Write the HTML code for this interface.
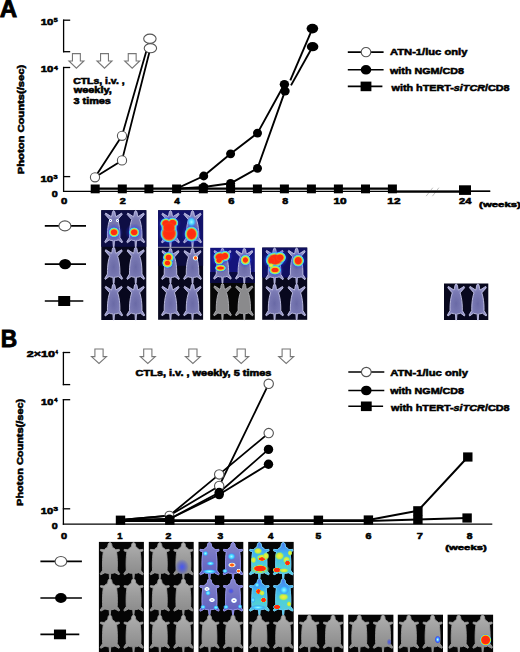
<!DOCTYPE html><html><head><meta charset="utf-8"><style>html,body{margin:0;padding:0;background:#fff;}svg{display:block;} text{stroke:#000;stroke-width:0.55px;} .big{stroke-width:0.9px;}</style></head><body>
<svg width="520" height="652" viewBox="0 0 520 652" font-family="'Liberation Sans', sans-serif">
<defs>
<filter id="bl" x="-20%" y="-20%" width="140%" height="140%"><feGaussianBlur stdDeviation="0.5"/></filter>
<filter id="bl2" x="-30%" y="-30%" width="160%" height="160%"><feGaussianBlur stdDeviation="1.0"/></filter>
<radialGradient id="hot"><stop offset="0" stop-color="#ff2810"/><stop offset="0.66" stop-color="#ff3010"/><stop offset="0.76" stop-color="#ffb000"/><stop offset="0.82" stop-color="#b0f040"/><stop offset="0.88" stop-color="#40d0ff"/><stop offset="1" stop-color="#3048ff" stop-opacity="0"/></radialGradient>
<radialGradient id="warm"><stop offset="0" stop-color="#ffe040"/><stop offset="0.4" stop-color="#60e080"/><stop offset="0.7" stop-color="#30b0ff"/><stop offset="1" stop-color="#3040ff" stop-opacity="0"/></radialGradient>
<radialGradient id="cool"><stop offset="0" stop-color="#ffffff"/><stop offset="0.3" stop-color="#60d0ff"/><stop offset="0.7" stop-color="#3050ff"/><stop offset="1" stop-color="#3040ff" stop-opacity="0"/></radialGradient>
<radialGradient id="glow"><stop offset="0" stop-color="#4050ff" stop-opacity="0.9"/><stop offset="1" stop-color="#2030e0" stop-opacity="0"/></radialGradient>
<radialGradient id="ab" cx="0.5" cy="0.55" r="0.55"><stop offset="0" stop-color="#6a6aa6"/><stop offset="0.6" stop-color="#7a7ab4"/><stop offset="1" stop-color="#a0a0d0"/></radialGradient>
<linearGradient id="bb" x1="0" y1="0" x2="0" y2="1"><stop offset="0" stop-color="#b0b0b0"/><stop offset="0.5" stop-color="#9a9a9a"/><stop offset="1" stop-color="#888888"/></linearGradient>
<linearGradient id="w3" x1="0" y1="0" x2="0" y2="1"><stop offset="0" stop-color="#8686c8"/><stop offset="0.6" stop-color="#6c6cc2"/><stop offset="1" stop-color="#5c5cbc"/></linearGradient>
<linearGradient id="w4" x1="0" y1="0" x2="0" y2="1"><stop offset="0" stop-color="#4a78f0"/><stop offset="0.3" stop-color="#40b4f0"/><stop offset="0.65" stop-color="#50d0d8"/><stop offset="1" stop-color="#58c8e0"/></linearGradient>
<radialGradient id="yel"><stop offset="0" stop-color="#ffe840"/><stop offset="0.6" stop-color="#c0f040"/><stop offset="1" stop-color="#60e0a0" stop-opacity="0"/></radialGradient>
<radialGradient id="hot2"><stop offset="0" stop-color="#ff3010"/><stop offset="0.45" stop-color="#ff8020"/><stop offset="0.7" stop-color="#ffffff"/><stop offset="1" stop-color="#60d0ff" stop-opacity="0"/></radialGradient>
<radialGradient id="cyan"><stop offset="0" stop-color="#a0f8ff"/><stop offset="0.5" stop-color="#40d0ff"/><stop offset="1" stop-color="#4060ff" stop-opacity="0"/></radialGradient>
<radialGradient id="ring"><stop offset="0" stop-color="#6060d0"/><stop offset="0.35" stop-color="#ffffff"/><stop offset="0.65" stop-color="#ffffff"/><stop offset="1" stop-color="#60d0ff" stop-opacity="0"/></radialGradient>
<radialGradient id="red"><stop offset="0" stop-color="#ff2a10"/><stop offset="0.75" stop-color="#ff3010"/><stop offset="1" stop-color="#ff5010" stop-opacity="0.3"/></radialGradient>
<radialGradient id="halo"><stop offset="0" stop-color="#ffd020"/><stop offset="0.55" stop-color="#ffd020"/><stop offset="0.72" stop-color="#90f070"/><stop offset="0.86" stop-color="#40c8ff"/><stop offset="1" stop-color="#3050ff" stop-opacity="0"/></radialGradient>
</defs>
<rect width="520" height="652" fill="#fff"/>
<text x="-0.27" y="16.80" font-size="24.559" font-weight="bold" text-anchor="start" textLength="17.40" lengthAdjust="spacingAndGlyphs" class="big">A</text>
<text transform="translate(24.04,174.21) rotate(-90)" font-size="8.989" font-weight="bold" textLength="109.46" lengthAdjust="spacingAndGlyphs">Photon Counts(/sec)</text>
<line x1="63.60" y1="19.60" x2="63.60" y2="52.30" stroke="#000" stroke-width="1.3"/>
<line x1="63.00" y1="20.20" x2="70.20" y2="20.20" stroke="#000" stroke-width="1.3"/>
<line x1="63.00" y1="51.70" x2="70.20" y2="51.70" stroke="#000" stroke-width="1.3"/>
<line x1="63.60" y1="66.90" x2="63.60" y2="192.00" stroke="#000" stroke-width="1.3"/>
<line x1="63.00" y1="67.50" x2="70.20" y2="67.50" stroke="#000" stroke-width="1.3"/>
<line x1="63.00" y1="176.60" x2="70.20" y2="176.60" stroke="#000" stroke-width="1.3"/>
<line x1="63.00" y1="191.30" x2="490.20" y2="191.30" stroke="#000" stroke-width="1.3"/>
<text x="40.79" y="24.74" font-size="8.944" font-weight="bold" text-anchor="start" textLength="12.61" lengthAdjust="spacingAndGlyphs">10</text>
<text x="53.76" y="22.17" font-size="5.786" font-weight="bold" text-anchor="start" textLength="3.95" lengthAdjust="spacingAndGlyphs">5</text>
<text x="40.79" y="72.34" font-size="8.944" font-weight="bold" text-anchor="start" textLength="12.61" lengthAdjust="spacingAndGlyphs">10</text>
<text x="54.04" y="69.62" font-size="6.159" font-weight="bold" text-anchor="start" textLength="3.83" lengthAdjust="spacingAndGlyphs">4</text>
<text x="40.49" y="181.74" font-size="8.521" font-weight="bold" text-anchor="start" textLength="12.72" lengthAdjust="spacingAndGlyphs">10</text>
<text x="53.53" y="179.47" font-size="5.282" font-weight="bold" text-anchor="start" textLength="4.06" lengthAdjust="spacingAndGlyphs">3</text>
<text x="51.85" y="196.74" font-size="8.239" font-weight="bold" text-anchor="start" textLength="5.98" lengthAdjust="spacingAndGlyphs">0</text>
<text x="60.97" y="203.84" font-size="8.803" font-weight="bold" text-anchor="start" textLength="6.33" lengthAdjust="spacingAndGlyphs">0</text>
<text x="119.85" y="203.92" font-size="8.929" font-weight="bold" text-anchor="start" textLength="6.07" lengthAdjust="spacingAndGlyphs">2</text>
<text x="174.22" y="203.92" font-size="9.058" font-weight="bold" text-anchor="start" textLength="5.61" lengthAdjust="spacingAndGlyphs">4</text>
<text x="228.28" y="203.84" font-size="8.803" font-weight="bold" text-anchor="start" textLength="6.20" lengthAdjust="spacingAndGlyphs">6</text>
<text x="282.20" y="203.84" font-size="8.803" font-weight="bold" text-anchor="start" textLength="5.95" lengthAdjust="spacingAndGlyphs">8</text>
<text x="333.42" y="203.84" font-size="8.803" font-weight="bold" text-anchor="start" textLength="13.16" lengthAdjust="spacingAndGlyphs">10</text>
<text x="387.32" y="203.92" font-size="8.929" font-weight="bold" text-anchor="start" textLength="13.16" lengthAdjust="spacingAndGlyphs">12</text>
<text x="459.14" y="203.92" font-size="8.929" font-weight="bold" text-anchor="start" textLength="12.31" lengthAdjust="spacingAndGlyphs">24</text>
<text x="479.11" y="207.26" font-size="7.926" font-weight="bold" text-anchor="start" textLength="41.77" lengthAdjust="spacingAndGlyphs">(weeks)</text>
<line x1="426.10" y1="196.20" x2="432.80" y2="187.70" stroke="#b8b8b8" stroke-width="0.9"/>
<line x1="432.40" y1="196.20" x2="438.90" y2="187.70" stroke="#b8b8b8" stroke-width="0.9"/>
<polygon points="72.45,53.60 80.35,53.60 80.35,61.00 83.90,61.00 76.40,68.20 68.90,61.00 72.45,61.00" fill="#fff" stroke="#777" stroke-width="1.1" stroke-linejoin="miter"/>
<polygon points="100.55,53.60 108.45,53.60 108.45,61.00 112.00,61.00 104.50,68.20 97.00,61.00 100.55,61.00" fill="#fff" stroke="#777" stroke-width="1.1" stroke-linejoin="miter"/>
<polygon points="128.25,53.60 136.15,53.60 136.15,61.00 139.70,61.00 132.20,68.20 124.70,61.00 128.25,61.00" fill="#fff" stroke="#777" stroke-width="1.1" stroke-linejoin="miter"/>
<text x="73.16" y="83.50" font-size="8.253" font-weight="bold" text-anchor="start" textLength="51.47" lengthAdjust="spacingAndGlyphs">CTLs, i.v. ,</text>
<text x="73.68" y="93.30" font-size="8.253" font-weight="bold" text-anchor="start" textLength="38.05" lengthAdjust="spacingAndGlyphs">weekly,</text>
<text x="73.46" y="103.90" font-size="8.253" font-weight="bold" text-anchor="start" textLength="37.47" lengthAdjust="spacingAndGlyphs">3 times</text>
<polyline points="95.20,188.70 392.40,188.70" fill="none" stroke="#000" stroke-width="2.3" stroke-linejoin="round"/>
<polyline points="392.40,191.60 465.00,191.60" fill="none" stroke="#000" stroke-width="2.4" stroke-linejoin="round"/>
<line x1="465.00" y1="191.10" x2="490.20" y2="191.10" stroke="#000" stroke-width="1.3"/>
<polyline points="176.60,188.70 203.70,176.00 230.60,153.80 257.50,133.10 284.40,84.30" fill="none" stroke="#000" stroke-width="1.9" stroke-linejoin="round"/>
<polyline points="176.60,188.70 203.70,187.00 230.60,183.30 257.50,168.30 285.00,91.10" fill="none" stroke="#000" stroke-width="1.9" stroke-linejoin="round"/>
<polyline points="290.30,80.40 312.40,28.60" fill="none" stroke="#000" stroke-width="1.9" stroke-linejoin="round"/>
<polyline points="291.00,85.40 312.60,46.70" fill="none" stroke="#000" stroke-width="1.9" stroke-linejoin="round"/>
<polyline points="95.00,177.30 122.00,160.40 150.40,48.20" fill="none" stroke="#000" stroke-width="1.8" stroke-linejoin="round"/>
<polyline points="95.00,177.30 122.00,135.80 149.90,38.70" fill="none" stroke="#000" stroke-width="1.8" stroke-linejoin="round"/>
<rect x="90.70" y="184.50" width="9.00" height="8.80" fill="#000"/>
<rect x="117.80" y="184.50" width="9.00" height="8.80" fill="#000"/>
<rect x="144.40" y="184.50" width="9.00" height="8.80" fill="#000"/>
<rect x="172.10" y="184.50" width="9.00" height="8.80" fill="#000"/>
<rect x="198.80" y="184.50" width="9.00" height="8.80" fill="#000"/>
<rect x="226.10" y="184.50" width="9.00" height="8.80" fill="#000"/>
<rect x="252.90" y="184.50" width="9.00" height="8.80" fill="#000"/>
<rect x="279.90" y="184.50" width="9.00" height="8.80" fill="#000"/>
<rect x="306.90" y="184.50" width="9.00" height="8.80" fill="#000"/>
<rect x="333.90" y="184.50" width="9.00" height="8.80" fill="#000"/>
<rect x="361.00" y="184.50" width="9.00" height="8.80" fill="#000"/>
<rect x="387.90" y="184.50" width="9.00" height="8.80" fill="#000"/>
<rect x="459.00" y="185.30" width="12.00" height="9.60" fill="#000"/>
<ellipse cx="203.70" cy="176.00" rx="4.5" ry="4.4" fill="#000"/>
<ellipse cx="230.60" cy="153.80" rx="4.5" ry="4.4" fill="#000"/>
<ellipse cx="257.50" cy="133.10" rx="4.5" ry="4.4" fill="#000"/>
<ellipse cx="203.70" cy="187.00" rx="4.5" ry="4.4" fill="#000"/>
<ellipse cx="230.60" cy="183.30" rx="4.5" ry="4.4" fill="#000"/>
<ellipse cx="257.50" cy="168.30" rx="4.5" ry="4.4" fill="#000"/>
<ellipse cx="285.00" cy="91.10" rx="4.7" ry="4.4" fill="#000"/>
<ellipse cx="284.40" cy="84.30" rx="4.7" ry="4.4" fill="#000"/>
<ellipse cx="312.40" cy="28.60" rx="5.8" ry="4.8" fill="#000"/>
<ellipse cx="312.60" cy="46.70" rx="5.8" ry="4.6" fill="#000"/>
<ellipse cx="95.00" cy="177.30" rx="4.6" ry="4.6" fill="#fff" stroke="#555" stroke-width="1.1"/>
<ellipse cx="122.00" cy="160.40" rx="4.6" ry="4.6" fill="#fff" stroke="#555" stroke-width="1.1"/>
<ellipse cx="122.00" cy="135.80" rx="4.6" ry="4.6" fill="#fff" stroke="#555" stroke-width="1.1"/>
<ellipse cx="149.90" cy="38.70" rx="6.2" ry="4.6" fill="#fff" stroke="#555" stroke-width="1.1"/>
<ellipse cx="150.40" cy="48.20" rx="6.2" ry="4.6" fill="#fff" stroke="#555" stroke-width="1.1"/>
<line x1="347.80" y1="52.10" x2="383.60" y2="52.10" stroke="#000" stroke-width="1.6"/>
<ellipse cx="366.00" cy="52.10" rx="4.85" ry="4.6" fill="#fff" stroke="#555" stroke-width="1.1"/>
<text x="390.00" y="55.30" font-size="9.8" font-weight="bold" text-anchor="start" textLength="77.40" lengthAdjust="spacingAndGlyphs">ATN-1/luc only</text>
<line x1="347.80" y1="69.80" x2="383.60" y2="69.80" stroke="#000" stroke-width="1.6"/>
<ellipse cx="366.00" cy="69.80" rx="5.3" ry="4.8" fill="#000"/>
<text x="390.00" y="73.60" font-size="9.8" font-weight="bold" text-anchor="start" textLength="73.90" lengthAdjust="spacingAndGlyphs">with NGM/CD8</text>
<line x1="347.80" y1="86.40" x2="382.40" y2="86.40" stroke="#000" stroke-width="1.6"/>
<rect x="360.60" y="81.60" width="10.80" height="9.60" fill="#000"/>
<text x="391.50" y="90.90" font-size="9.8" font-weight="bold" textLength="118.1" lengthAdjust="spacingAndGlyphs">with hTERT-<tspan font-style="italic">siTCR</tspan>/CD8</text>
<text x="0.65" y="347.05" font-size="24.493" font-weight="bold" text-anchor="start" textLength="16.46" lengthAdjust="spacingAndGlyphs" class="big">B</text>
<text transform="translate(23.43,505.89) rotate(-90)" font-size="8.564" font-weight="bold" textLength="107.14" lengthAdjust="spacingAndGlyphs">Photon Counts(/sec)</text>
<line x1="63.40" y1="351.90" x2="63.40" y2="385.20" stroke="#000" stroke-width="1.3"/>
<line x1="62.80" y1="352.50" x2="70.20" y2="352.50" stroke="#000" stroke-width="1.3"/>
<line x1="62.80" y1="384.60" x2="70.20" y2="384.60" stroke="#000" stroke-width="1.3"/>
<line x1="63.40" y1="399.10" x2="63.40" y2="524.80" stroke="#000" stroke-width="1.3"/>
<line x1="62.80" y1="399.70" x2="70.20" y2="399.70" stroke="#000" stroke-width="1.3"/>
<line x1="62.80" y1="508.80" x2="70.20" y2="508.80" stroke="#000" stroke-width="1.3"/>
<line x1="62.80" y1="524.20" x2="492.30" y2="524.20" stroke="#000" stroke-width="1.3"/>
<text x="26.80" y="357.34" font-size="8.662" font-weight="bold" text-anchor="start" textLength="28.26" lengthAdjust="spacingAndGlyphs">2×10</text>
<text x="55.39" y="354.12" font-size="5.725" font-weight="bold" text-anchor="start" textLength="2.36" lengthAdjust="spacingAndGlyphs">4</text>
<text x="41.11" y="404.74" font-size="8.662" font-weight="bold" text-anchor="start" textLength="12.28" lengthAdjust="spacingAndGlyphs">10</text>
<text x="54.36" y="402.23" font-size="6.159" font-weight="bold" text-anchor="start" textLength="3.20" lengthAdjust="spacingAndGlyphs">4</text>
<text x="40.81" y="514.14" font-size="8.662" font-weight="bold" text-anchor="start" textLength="12.39" lengthAdjust="spacingAndGlyphs">10</text>
<text x="53.42" y="511.17" font-size="5.141" font-weight="bold" text-anchor="start" textLength="4.39" lengthAdjust="spacingAndGlyphs">3</text>
<text x="51.65" y="529.34" font-size="8.662" font-weight="bold" text-anchor="start" textLength="5.98" lengthAdjust="spacingAndGlyphs">0</text>
<text x="61.09" y="538.74" font-size="8.38" font-weight="bold" text-anchor="start" textLength="6.10" lengthAdjust="spacingAndGlyphs">0</text>
<text x="117.31" y="538.83" font-size="8.623" font-weight="bold" text-anchor="start" textLength="5.27" lengthAdjust="spacingAndGlyphs">1</text>
<text x="165.41" y="538.83" font-size="8.5" font-weight="bold" text-anchor="start" textLength="5.85" lengthAdjust="spacingAndGlyphs">2</text>
<text x="217.42" y="538.74" font-size="8.38" font-weight="bold" text-anchor="start" textLength="5.73" lengthAdjust="spacingAndGlyphs">3</text>
<text x="268.03" y="538.83" font-size="8.623" font-weight="bold" text-anchor="start" textLength="5.41" lengthAdjust="spacingAndGlyphs">4</text>
<text x="315.62" y="538.74" font-size="8.5" font-weight="bold" text-anchor="start" textLength="5.73" lengthAdjust="spacingAndGlyphs">5</text>
<text x="365.50" y="538.74" font-size="8.38" font-weight="bold" text-anchor="start" textLength="5.97" lengthAdjust="spacingAndGlyphs">6</text>
<text x="416.79" y="538.91" font-size="8.75" font-weight="bold" text-anchor="start" textLength="6.10" lengthAdjust="spacingAndGlyphs">7</text>
<text x="466.72" y="538.74" font-size="8.38" font-weight="bold" text-anchor="start" textLength="5.73" lengthAdjust="spacingAndGlyphs">8</text>
<text x="445.21" y="549.56" font-size="7.926" font-weight="bold" text-anchor="start" textLength="41.57" lengthAdjust="spacingAndGlyphs">(weeks)</text>
<polygon points="94.90,349.00 103.10,349.00 103.10,356.60 106.50,356.60 99.00,363.40 91.50,356.60 94.90,356.60" fill="#fff" stroke="#777" stroke-width="1.1" stroke-linejoin="miter"/>
<polygon points="143.70,349.00 151.90,349.00 151.90,356.60 155.30,356.60 147.80,363.40 140.30,356.60 143.70,356.60" fill="#fff" stroke="#777" stroke-width="1.1" stroke-linejoin="miter"/>
<polygon points="188.80,349.00 197.00,349.00 197.00,356.60 200.40,356.60 192.90,363.40 185.40,356.60 188.80,356.60" fill="#fff" stroke="#777" stroke-width="1.1" stroke-linejoin="miter"/>
<polygon points="237.10,349.00 245.30,349.00 245.30,356.60 248.70,356.60 241.20,363.40 233.70,356.60 237.10,356.60" fill="#fff" stroke="#777" stroke-width="1.1" stroke-linejoin="miter"/>
<polygon points="282.10,349.00 290.30,349.00 290.30,356.60 293.70,356.60 286.20,363.40 278.70,356.60 282.10,356.60" fill="#fff" stroke="#777" stroke-width="1.1" stroke-linejoin="miter"/>
<text x="135.64" y="375.80" font-size="8.253" font-weight="bold" text-anchor="start" textLength="135.75" lengthAdjust="spacingAndGlyphs">CTLs, i.v. , weekly, 5 times</text>
<polyline points="120.50,520.20 169.80,520.20 219.60,520.20 268.90,520.20 318.40,520.20 368.40,520.00 417.90,510.80 467.80,457.00" fill="none" stroke="#000" stroke-width="2.0" stroke-linejoin="round"/>
<polyline points="120.50,521.10 169.80,521.10 219.60,521.10 268.90,521.10 318.40,521.10 368.40,521.00 417.90,519.60 467.10,518.00" fill="none" stroke="#000" stroke-width="2.0" stroke-linejoin="round"/>
<polyline points="120.50,520.00 169.40,515.60 219.20,486.00 268.70,383.80" fill="none" stroke="#000" stroke-width="1.8" stroke-linejoin="round"/>
<polyline points="120.50,520.00 169.40,515.60 219.20,474.40 268.70,433.10" fill="none" stroke="#000" stroke-width="1.8" stroke-linejoin="round"/>
<polyline points="120.50,520.40 169.40,519.00 219.20,492.50 268.50,449.40" fill="none" stroke="#000" stroke-width="1.8" stroke-linejoin="round"/>
<polyline points="120.50,520.40 169.40,519.00 219.20,494.60 268.50,464.20" fill="none" stroke="#000" stroke-width="1.8" stroke-linejoin="round"/>
<ellipse cx="169.40" cy="515.60" rx="4.4" ry="4.4" fill="#fff" stroke="#555" stroke-width="1.1"/>
<ellipse cx="169.40" cy="519.00" rx="4.4" ry="4.4" fill="#000"/>
<ellipse cx="219.20" cy="474.40" rx="4.7" ry="4.7" fill="#fff" stroke="#555" stroke-width="1.1"/>
<ellipse cx="219.20" cy="486.00" rx="4.7" ry="4.7" fill="#fff" stroke="#555" stroke-width="1.1"/>
<ellipse cx="219.20" cy="492.50" rx="4.7" ry="4.7" fill="#000"/>
<ellipse cx="219.20" cy="494.60" rx="4.7" ry="4.7" fill="#000"/>
<ellipse cx="268.70" cy="383.80" rx="4.7" ry="4.7" fill="#fff" stroke="#555" stroke-width="1.1"/>
<ellipse cx="268.70" cy="433.10" rx="4.7" ry="4.7" fill="#fff" stroke="#555" stroke-width="1.1"/>
<ellipse cx="268.50" cy="449.40" rx="4.7" ry="4.7" fill="#000"/>
<ellipse cx="268.50" cy="464.20" rx="4.7" ry="4.7" fill="#000"/>
<rect x="115.80" y="515.60" width="9.40" height="9.20" fill="#000"/>
<rect x="165.10" y="515.60" width="9.40" height="9.20" fill="#000"/>
<rect x="214.90" y="515.60" width="9.40" height="9.20" fill="#000"/>
<rect x="264.20" y="515.60" width="9.40" height="9.20" fill="#000"/>
<rect x="313.70" y="515.60" width="9.40" height="9.20" fill="#000"/>
<rect x="363.70" y="515.40" width="9.40" height="9.20" fill="#000"/>
<rect x="413.20" y="506.20" width="9.40" height="9.20" fill="#000"/>
<rect x="463.10" y="452.40" width="9.40" height="9.20" fill="#000"/>
<rect x="413.20" y="515.00" width="9.40" height="9.20" fill="#000"/>
<rect x="462.40" y="513.40" width="9.40" height="9.20" fill="#000"/>
<line x1="348.30" y1="372.00" x2="384.30" y2="372.00" stroke="#000" stroke-width="1.6"/>
<ellipse cx="366.30" cy="372.00" rx="4.85" ry="4.6" fill="#fff" stroke="#555" stroke-width="1.1"/>
<text x="390.20" y="376.00" font-size="9.8" font-weight="bold" text-anchor="start" textLength="77.80" lengthAdjust="spacingAndGlyphs">ATN-1/luc only</text>
<line x1="348.30" y1="390.50" x2="384.30" y2="390.50" stroke="#000" stroke-width="1.6"/>
<ellipse cx="366.30" cy="390.50" rx="5.3" ry="4.8" fill="#000"/>
<text x="390.20" y="394.00" font-size="9.8" font-weight="bold" text-anchor="start" textLength="73.80" lengthAdjust="spacingAndGlyphs">with NGM/CD8</text>
<line x1="348.30" y1="406.30" x2="383.10" y2="406.30" stroke="#000" stroke-width="1.6"/>
<rect x="360.90" y="401.50" width="10.80" height="9.60" fill="#000"/>
<text x="391.00" y="410.50" font-size="9.8" font-weight="bold" textLength="118.6" lengthAdjust="spacingAndGlyphs">with hTERT-<tspan font-style="italic">siTCR</tspan>/CD8</text>
<line x1="44.80" y1="225.90" x2="86.00" y2="225.90" stroke="#000" stroke-width="1.6"/>
<ellipse cx="64.90" cy="225.90" rx="6.0" ry="5.0" fill="#fff" stroke="#555" stroke-width="1.1"/>
<line x1="44.80" y1="264.10" x2="86.00" y2="264.10" stroke="#000" stroke-width="1.6"/>
<ellipse cx="65.10" cy="264.10" rx="6.0" ry="5.2" fill="#000"/>
<line x1="44.80" y1="301.00" x2="83.30" y2="301.00" stroke="#000" stroke-width="1.6"/>
<rect x="58.20" y="296.00" width="12.00" height="10.00" fill="#000"/>
<rect x="101.30" y="210.20" width="45.00" height="109.80" fill="#08081e"/>
<rect x="101.3" y="210.2" width="45" height="36.6" fill="#0e0e44"/>
<path d="M113.67,210.57 L114.49,211.21 L115.06,212.82 L115.38,214.91 L115.94,216.73 L121.61,213.10 L122.18,214.55 L117.64,219.62 L118.35,221.85 L118.95,224.47 L119.42,227.41 L119.74,230.60 L119.91,233.95 L119.91,237.38 L122.56,241.73 L121.99,242.81 L118.21,239.92 L116.73,240.43 L115.41,240.61 L114.43,240.64 L114.05,246.80 L113.30,246.80 L112.92,240.64 L111.94,240.61 L110.62,240.43 L109.14,239.92 L105.36,242.81 L104.79,241.73 L107.44,237.38 L107.44,233.95 L107.61,230.60 L107.93,227.41 L108.40,224.47 L109.00,221.85 L109.71,219.62 L105.17,214.55 L105.74,213.10 L111.41,216.73 L111.97,214.91 L112.29,212.82 L112.86,211.21 Z" fill="url(#ab)" stroke="#c4c4e8" stroke-width="0.9" opacity="1.0" filter="url(#bl)"/>
<path d="M135.73,210.57 L136.54,211.21 L137.11,212.82 L137.43,214.91 L137.99,216.73 L143.66,213.10 L144.23,214.55 L139.69,219.62 L140.40,221.85 L141.00,224.47 L141.47,227.41 L141.79,230.60 L141.96,233.95 L141.96,237.38 L144.61,241.73 L144.04,242.81 L140.26,239.92 L138.78,240.43 L137.46,240.61 L136.48,240.64 L136.10,246.80 L135.35,246.80 L134.97,240.64 L133.99,240.61 L132.67,240.43 L131.19,239.92 L127.41,242.81 L126.84,241.73 L129.49,237.38 L129.49,233.95 L129.66,230.60 L129.98,227.41 L130.45,224.47 L131.05,221.85 L131.76,219.62 L127.22,214.55 L127.79,213.10 L133.46,216.73 L134.02,214.91 L134.34,212.82 L134.91,211.21 Z" fill="url(#ab)" stroke="#c4c4e8" stroke-width="0.9" opacity="1.0" filter="url(#bl)"/>
<path d="M113.67,247.17 L114.49,247.81 L115.06,249.42 L115.38,251.51 L115.94,253.33 L121.61,249.70 L122.18,251.15 L117.64,256.22 L118.35,258.45 L118.95,261.07 L119.42,264.01 L119.74,267.20 L119.91,270.55 L119.91,273.98 L122.56,278.33 L121.99,279.41 L118.21,276.52 L116.73,277.03 L115.41,277.21 L114.43,277.24 L114.05,283.40 L113.30,283.40 L112.92,277.24 L111.94,277.21 L110.62,277.03 L109.14,276.52 L105.36,279.41 L104.79,278.33 L107.44,273.98 L107.44,270.55 L107.61,267.20 L107.93,264.01 L108.40,261.07 L109.00,258.45 L109.71,256.22 L105.17,251.15 L105.74,249.70 L111.41,253.33 L111.97,251.51 L112.29,249.42 L112.86,247.81 Z" fill="url(#ab)" stroke="#c4c4e8" stroke-width="0.9" opacity="1.0" filter="url(#bl)"/>
<path d="M135.73,247.17 L136.54,247.81 L137.11,249.42 L137.43,251.51 L137.99,253.33 L143.66,249.70 L144.23,251.15 L139.69,256.22 L140.40,258.45 L141.00,261.07 L141.47,264.01 L141.79,267.20 L141.96,270.55 L141.96,273.98 L144.61,278.33 L144.04,279.41 L140.26,276.52 L138.78,277.03 L137.46,277.21 L136.48,277.24 L136.10,283.40 L135.35,283.40 L134.97,277.24 L133.99,277.21 L132.67,277.03 L131.19,276.52 L127.41,279.41 L126.84,278.33 L129.49,273.98 L129.49,270.55 L129.66,267.20 L129.98,264.01 L130.45,261.07 L131.05,258.45 L131.76,256.22 L127.22,251.15 L127.79,249.70 L133.46,253.33 L134.02,251.51 L134.34,249.42 L134.91,247.81 Z" fill="url(#ab)" stroke="#c4c4e8" stroke-width="0.9" opacity="1.0" filter="url(#bl)"/>
<path d="M113.67,283.77 L114.49,284.41 L115.06,286.02 L115.38,288.11 L115.94,289.93 L121.61,286.30 L122.18,287.75 L117.64,292.82 L118.35,295.05 L118.95,297.67 L119.42,300.61 L119.74,303.80 L119.91,307.15 L119.91,310.58 L122.56,314.93 L121.99,316.01 L118.21,313.12 L116.73,313.63 L115.41,313.81 L114.43,313.84 L114.05,320.00 L113.30,320.00 L112.92,313.84 L111.94,313.81 L110.62,313.63 L109.14,313.12 L105.36,316.01 L104.79,314.93 L107.44,310.58 L107.44,307.15 L107.61,303.80 L107.93,300.61 L108.40,297.67 L109.00,295.05 L109.71,292.82 L105.17,287.75 L105.74,286.30 L111.41,289.93 L111.97,288.11 L112.29,286.02 L112.86,284.41 Z" fill="url(#ab)" stroke="#c4c4e8" stroke-width="0.9" opacity="1.0" filter="url(#bl)"/>
<path d="M135.73,283.77 L136.54,284.41 L137.11,286.02 L137.43,288.11 L137.99,289.93 L143.66,286.30 L144.23,287.75 L139.69,292.82 L140.40,295.05 L141.00,297.67 L141.47,300.61 L141.79,303.80 L141.96,307.15 L141.96,310.58 L144.61,314.93 L144.04,316.01 L140.26,313.12 L138.78,313.63 L137.46,313.81 L136.48,313.84 L136.10,320.00 L135.35,320.00 L134.97,313.84 L133.99,313.81 L132.67,313.63 L131.19,313.12 L127.41,316.01 L126.84,314.93 L129.49,310.58 L129.49,307.15 L129.66,303.80 L129.98,300.61 L130.45,297.67 L131.05,295.05 L131.76,292.82 L127.22,287.75 L127.79,286.30 L133.46,289.93 L134.02,288.11 L134.34,286.02 L134.91,284.41 Z" fill="url(#ab)" stroke="#c4c4e8" stroke-width="0.9" opacity="1.0" filter="url(#bl)"/>
<ellipse cx="114.00" cy="232.30" rx="9.10" ry="8.80" fill="url(#glow)"/>
<ellipse cx="134.20" cy="232.30" rx="9.10" ry="8.80" fill="url(#glow)"/>
<ellipse cx="114.00" cy="232.30" rx="5.60" ry="5.30" fill="url(#halo)"/>
<ellipse cx="134.20" cy="232.30" rx="5.60" ry="5.30" fill="url(#halo)"/>
<ellipse cx="114.00" cy="232.30" rx="3.60" ry="3.30" fill="url(#red)"/>
<ellipse cx="134.20" cy="232.30" rx="3.60" ry="3.30" fill="url(#red)"/>
<ellipse cx="110.50" cy="220.50" rx="2.00" ry="1.80" fill="url(#ring)"/>
<ellipse cx="117.50" cy="220.50" rx="2.00" ry="1.80" fill="url(#ring)"/>
<rect x="158.10" y="210.25" width="45.00" height="109.50" fill="#08081e"/>
<rect x="158.1" y="210.25" width="45" height="36.7" fill="#12126a"/>
<rect x="158.1" y="247.8" width="45" height="18" fill="#0c0c3e"/>
<path d="M170.47,210.62 L171.29,211.26 L171.86,212.87 L172.18,214.97 L172.74,216.78 L178.41,213.16 L178.98,214.61 L174.44,219.69 L175.15,221.91 L175.75,224.54 L176.22,227.49 L176.54,230.68 L176.71,234.03 L176.71,237.47 L179.36,241.82 L178.79,242.91 L175.01,240.01 L173.53,240.52 L172.21,240.70 L171.23,240.73 L170.85,246.90 L170.10,246.90 L169.72,240.73 L168.74,240.70 L167.42,240.52 L165.94,240.01 L162.16,242.91 L161.59,241.82 L164.24,237.47 L164.24,234.03 L164.41,230.68 L164.73,227.49 L165.20,224.54 L165.80,221.91 L166.51,219.69 L161.97,214.61 L162.54,213.16 L168.21,216.78 L168.77,214.97 L169.09,212.87 L169.66,211.26 Z" fill="url(#ab)" stroke="#c4c4e8" stroke-width="0.9" opacity="1.0" filter="url(#bl)"/>
<path d="M192.52,210.62 L193.34,211.26 L193.91,212.87 L194.23,214.97 L194.79,216.78 L200.46,213.16 L201.03,214.61 L196.49,219.69 L197.20,221.91 L197.80,224.54 L198.27,227.49 L198.59,230.68 L198.76,234.03 L198.76,237.47 L201.41,241.82 L200.84,242.91 L197.06,240.01 L195.58,240.52 L194.26,240.70 L193.28,240.73 L192.90,246.90 L192.15,246.90 L191.77,240.73 L190.79,240.70 L189.47,240.52 L187.99,240.01 L184.21,242.91 L183.64,241.82 L186.29,237.47 L186.29,234.03 L186.46,230.68 L186.78,227.49 L187.25,224.54 L187.85,221.91 L188.56,219.69 L184.02,214.61 L184.59,213.16 L190.26,216.78 L190.82,214.97 L191.14,212.87 L191.71,211.26 Z" fill="url(#ab)" stroke="#c4c4e8" stroke-width="0.9" opacity="1.0" filter="url(#bl)"/>
<line x1="158.10" y1="247.30" x2="203.10" y2="247.30" stroke="#a8a8c0" stroke-width="0.9"/>
<path d="M170.47,248.16 L171.29,248.78 L171.86,250.35 L172.18,252.39 L172.74,254.15 L178.41,250.62 L178.98,252.03 L174.44,256.97 L175.15,259.13 L175.75,261.68 L176.22,264.54 L176.54,267.64 L176.71,270.90 L176.71,274.24 L179.36,278.47 L178.79,279.52 L175.01,276.70 L173.53,277.20 L172.21,277.38 L171.23,277.41 L170.85,283.40 L170.10,283.40 L169.72,277.41 L168.74,277.38 L167.42,277.20 L165.94,276.70 L162.16,279.52 L161.59,278.47 L164.24,274.24 L164.24,270.90 L164.41,267.64 L164.73,264.54 L165.20,261.68 L165.80,259.13 L166.51,256.97 L161.97,252.03 L162.54,250.62 L168.21,254.15 L168.77,252.39 L169.09,250.35 L169.66,248.78 Z" fill="url(#ab)" stroke="#c4c4e8" stroke-width="0.9" opacity="1.0" filter="url(#bl)"/>
<path d="M192.52,248.16 L193.34,248.78 L193.91,250.35 L194.23,252.39 L194.79,254.15 L200.46,250.62 L201.03,252.03 L196.49,256.97 L197.20,259.13 L197.80,261.68 L198.27,264.54 L198.59,267.64 L198.76,270.90 L198.76,274.24 L201.41,278.47 L200.84,279.52 L197.06,276.70 L195.58,277.20 L194.26,277.38 L193.28,277.41 L192.90,283.40 L192.15,283.40 L191.77,277.41 L190.79,277.38 L189.47,277.20 L187.99,276.70 L184.21,279.52 L183.64,278.47 L186.29,274.24 L186.29,270.90 L186.46,267.64 L186.78,264.54 L187.25,261.68 L187.85,259.13 L188.56,256.97 L184.02,252.03 L184.59,250.62 L190.26,254.15 L190.82,252.39 L191.14,250.35 L191.71,248.78 Z" fill="url(#ab)" stroke="#c4c4e8" stroke-width="0.9" opacity="1.0" filter="url(#bl)"/>
<path d="M170.47,283.76 L171.29,284.40 L171.86,286.00 L172.18,288.08 L172.74,289.88 L178.41,286.28 L178.98,287.72 L174.44,292.76 L175.15,294.97 L175.75,297.57 L176.22,300.50 L176.54,303.66 L176.71,306.99 L176.71,310.39 L179.36,314.71 L178.79,315.79 L175.01,312.91 L173.53,313.42 L172.21,313.61 L171.23,313.63 L170.85,319.75 L170.10,319.75 L169.72,313.63 L168.74,313.61 L167.42,313.42 L165.94,312.91 L162.16,315.79 L161.59,314.71 L164.24,310.39 L164.24,306.99 L164.41,303.66 L164.73,300.50 L165.20,297.57 L165.80,294.97 L166.51,292.76 L161.97,287.72 L162.54,286.28 L168.21,289.88 L168.77,288.08 L169.09,286.00 L169.66,284.40 Z" fill="url(#ab)" stroke="#c4c4e8" stroke-width="0.9" opacity="1.0" filter="url(#bl)"/>
<path d="M192.52,283.76 L193.34,284.40 L193.91,286.00 L194.23,288.08 L194.79,289.88 L200.46,286.28 L201.03,287.72 L196.49,292.76 L197.20,294.97 L197.80,297.57 L198.27,300.50 L198.59,303.66 L198.76,306.99 L198.76,310.39 L201.41,314.71 L200.84,315.79 L197.06,312.91 L195.58,313.42 L194.26,313.61 L193.28,313.63 L192.90,319.75 L192.15,319.75 L191.77,313.63 L190.79,313.61 L189.47,313.42 L187.99,312.91 L184.21,315.79 L183.64,314.71 L186.29,310.39 L186.29,306.99 L186.46,303.66 L186.78,300.50 L187.25,297.57 L187.85,294.97 L188.56,292.76 L184.02,287.72 L184.59,286.28 L190.26,289.88 L190.82,288.08 L191.14,286.00 L191.71,284.40 Z" fill="url(#ab)" stroke="#c4c4e8" stroke-width="0.9" opacity="1.0" filter="url(#bl)"/>
<ellipse cx="169.00" cy="233.50" rx="11.70" ry="12.00" fill="url(#glow)"/>
<ellipse cx="166.00" cy="223.50" rx="8.70" ry="8.30" fill="url(#glow)"/>
<ellipse cx="172.50" cy="223.00" rx="8.70" ry="8.10" fill="url(#glow)"/>
<ellipse cx="169.00" cy="227.50" rx="10.70" ry="9.50" fill="url(#glow)"/>
<ellipse cx="169.00" cy="233.50" rx="9.20" ry="9.50" fill="url(#halo)"/>
<ellipse cx="166.00" cy="223.50" rx="6.20" ry="5.80" fill="url(#halo)"/>
<ellipse cx="172.50" cy="223.00" rx="6.20" ry="5.60" fill="url(#halo)"/>
<ellipse cx="169.00" cy="227.50" rx="8.20" ry="7.00" fill="url(#halo)"/>
<ellipse cx="169.00" cy="233.50" rx="7.20" ry="7.50" fill="url(#red)"/>
<ellipse cx="166.00" cy="223.50" rx="4.20" ry="3.80" fill="url(#red)"/>
<ellipse cx="172.50" cy="223.00" rx="4.20" ry="3.60" fill="url(#red)"/>
<ellipse cx="169.00" cy="227.50" rx="6.20" ry="5.00" fill="url(#red)"/>
<ellipse cx="191.50" cy="222.00" rx="5.00" ry="6.00" fill="url(#cyan)"/>
<ellipse cx="191.50" cy="234.00" rx="10.20" ry="11.00" fill="url(#glow)"/>
<ellipse cx="191.50" cy="234.00" rx="7.40" ry="8.20" fill="url(#halo)"/>
<ellipse cx="191.50" cy="234.00" rx="5.20" ry="6.00" fill="url(#red)"/>
<ellipse cx="168.50" cy="257.50" rx="7.20" ry="7.20" fill="url(#glow)"/>
<ellipse cx="167.50" cy="263.00" rx="7.00" ry="6.60" fill="url(#glow)"/>
<ellipse cx="168.50" cy="257.50" rx="5.80" ry="5.80" fill="url(#halo)"/>
<ellipse cx="167.50" cy="263.00" rx="5.60" ry="5.20" fill="url(#halo)"/>
<ellipse cx="168.50" cy="257.50" rx="3.20" ry="3.20" fill="url(#red)"/>
<ellipse cx="167.50" cy="263.00" rx="3.00" ry="2.60" fill="url(#red)"/>
<ellipse cx="195.50" cy="258.00" rx="3.00" ry="3.00" fill="url(#hot2)"/>
<rect x="210.20" y="247.80" width="44.60" height="35.20" fill="#14147c"/>
<rect x="210.2" y="272" width="44.6" height="11" fill="#0a0a40"/>
<path d="M222.47,248.15 L223.28,248.77 L223.84,250.32 L224.15,252.33 L224.71,254.08 L230.33,250.59 L230.89,251.99 L226.40,256.86 L227.10,259.00 L227.69,261.52 L228.15,264.36 L228.48,267.42 L228.65,270.64 L228.65,273.94 L231.27,278.12 L230.71,279.17 L226.96,276.38 L225.49,276.87 L224.19,277.05 L223.21,277.08 L222.84,283.00 L222.09,283.00 L221.72,277.08 L220.74,277.05 L219.44,276.87 L217.97,276.38 L214.22,279.17 L213.66,278.12 L216.28,273.94 L216.28,270.64 L216.45,267.42 L216.78,264.36 L217.24,261.52 L217.83,259.00 L218.53,256.86 L214.04,251.99 L214.60,250.59 L220.22,254.08 L220.78,252.33 L221.09,250.32 L221.65,248.77 Z" fill="url(#ab)" stroke="#c4c4e8" stroke-width="0.9" opacity="1.0" filter="url(#bl)"/>
<path d="M244.32,248.15 L245.13,248.77 L245.69,250.32 L246.00,252.33 L246.57,254.08 L252.19,250.59 L252.75,251.99 L248.25,256.86 L248.95,259.00 L249.54,261.52 L250.01,264.36 L250.33,267.42 L250.50,270.64 L250.50,273.94 L253.12,278.12 L252.56,279.17 L248.81,276.38 L247.34,276.87 L246.04,277.05 L245.07,277.08 L244.69,283.00 L243.94,283.00 L243.57,277.08 L242.60,277.05 L241.29,276.87 L239.82,276.38 L236.08,279.17 L235.51,278.12 L238.14,273.94 L238.13,270.64 L238.30,267.42 L238.63,264.36 L239.09,261.52 L239.69,259.00 L240.39,256.86 L235.89,251.99 L236.45,250.59 L242.07,254.08 L242.63,252.33 L242.95,250.32 L243.51,248.77 Z" fill="url(#ab)" stroke="#c4c4e8" stroke-width="0.9" opacity="1.0" filter="url(#bl)"/>
<ellipse cx="220.50" cy="257.00" rx="10.00" ry="8.50" fill="url(#glow)"/>
<ellipse cx="225.00" cy="256.00" rx="8.00" ry="8.00" fill="url(#glow)"/>
<ellipse cx="219.00" cy="260.50" rx="7.50" ry="7.00" fill="url(#glow)"/>
<ellipse cx="220.50" cy="257.00" rx="7.50" ry="6.00" fill="url(#halo)"/>
<ellipse cx="225.00" cy="256.00" rx="5.50" ry="5.50" fill="url(#halo)"/>
<ellipse cx="219.00" cy="260.50" rx="5.00" ry="4.50" fill="url(#halo)"/>
<ellipse cx="220.50" cy="257.00" rx="5.50" ry="4.00" fill="url(#red)"/>
<ellipse cx="225.00" cy="256.00" rx="3.50" ry="3.50" fill="url(#red)"/>
<ellipse cx="219.00" cy="260.50" rx="3.00" ry="2.50" fill="url(#red)"/>
<ellipse cx="220.50" cy="268.00" rx="6.80" ry="4.80" fill="url(#glow)"/>
<ellipse cx="220.50" cy="268.00" rx="5.80" ry="3.80" fill="url(#halo)"/>
<ellipse cx="220.50" cy="268.00" rx="3.80" ry="1.80" fill="url(#red)"/>
<ellipse cx="245.40" cy="260.00" rx="7.80" ry="8.00" fill="url(#glow)"/>
<ellipse cx="245.40" cy="260.00" rx="5.40" ry="5.60" fill="url(#halo)"/>
<ellipse cx="245.40" cy="260.00" rx="2.80" ry="3.00" fill="url(#red)"/>
<rect x="210.20" y="283.00" width="44.60" height="36.80" fill="#060606"/>
<path d="M222.47,283.37 L223.28,284.02 L223.84,285.63 L224.15,287.74 L224.71,289.56 L230.33,285.92 L230.89,287.38 L226.40,292.48 L227.10,294.71 L227.69,297.35 L228.15,300.31 L228.48,303.51 L228.65,306.88 L228.65,310.33 L231.27,314.70 L230.71,315.79 L226.96,312.88 L225.49,313.39 L224.19,313.58 L223.21,313.61 L222.84,319.80 L222.09,319.80 L221.72,313.61 L220.74,313.58 L219.44,313.39 L217.97,312.88 L214.22,315.79 L213.66,314.70 L216.28,310.33 L216.28,306.88 L216.45,303.51 L216.78,300.31 L217.24,297.35 L217.83,294.71 L218.53,292.48 L214.04,287.38 L214.60,285.92 L220.22,289.56 L220.78,287.74 L221.09,285.63 L221.65,284.02 Z" fill="#8a8a8c" stroke="#b0b0b4" stroke-width="0.9" opacity="1.0" filter="url(#bl)"/>
<path d="M244.32,283.37 L245.13,284.02 L245.69,285.63 L246.00,287.74 L246.57,289.56 L252.19,285.92 L252.75,287.38 L248.25,292.48 L248.95,294.71 L249.54,297.35 L250.01,300.31 L250.33,303.51 L250.50,306.88 L250.50,310.33 L253.12,314.70 L252.56,315.79 L248.81,312.88 L247.34,313.39 L246.04,313.58 L245.07,313.61 L244.69,319.80 L243.94,319.80 L243.57,313.61 L242.60,313.58 L241.29,313.39 L239.82,312.88 L236.08,315.79 L235.51,314.70 L238.14,310.33 L238.13,306.88 L238.30,303.51 L238.63,300.31 L239.09,297.35 L239.69,294.71 L240.39,292.48 L235.89,287.38 L236.45,285.92 L242.07,289.56 L242.63,287.74 L242.95,285.63 L243.51,284.02 Z" fill="#8a8a8c" stroke="#b0b0b4" stroke-width="0.9" opacity="1.0" filter="url(#bl)"/>
<rect x="262.20" y="247.60" width="45.00" height="72.20" fill="#08081e"/>
<rect x="262.2" y="247.6" width="45" height="30" fill="#101060"/>
<path d="M274.57,247.96 L275.39,248.59 L275.96,250.18 L276.28,252.24 L276.84,254.02 L282.51,250.45 L283.08,251.88 L278.54,256.87 L279.25,259.05 L279.85,261.64 L280.32,264.53 L280.64,267.67 L280.81,270.96 L280.81,274.33 L283.46,278.61 L282.89,279.68 L279.11,276.83 L277.63,277.33 L276.31,277.51 L275.33,277.54 L274.95,283.60 L274.20,283.60 L273.82,277.54 L272.84,277.51 L271.52,277.33 L270.04,276.83 L266.26,279.68 L265.69,278.61 L268.34,274.33 L268.34,270.96 L268.51,267.67 L268.83,264.53 L269.30,261.64 L269.90,259.05 L270.61,256.87 L266.07,251.88 L266.64,250.45 L272.31,254.02 L272.87,252.24 L273.19,250.18 L273.76,248.59 Z" fill="url(#ab)" stroke="#c4c4e8" stroke-width="0.9" opacity="1.0" filter="url(#bl)"/>
<path d="M296.62,247.96 L297.44,248.59 L298.01,250.18 L298.33,252.24 L298.89,254.02 L304.56,250.45 L305.13,251.88 L300.59,256.87 L301.30,259.05 L301.90,261.64 L302.37,264.53 L302.69,267.67 L302.86,270.96 L302.86,274.33 L305.51,278.61 L304.94,279.68 L301.16,276.83 L299.68,277.33 L298.36,277.51 L297.38,277.54 L297.00,283.60 L296.25,283.60 L295.87,277.54 L294.89,277.51 L293.57,277.33 L292.09,276.83 L288.31,279.68 L287.74,278.61 L290.39,274.33 L290.39,270.96 L290.56,267.67 L290.88,264.53 L291.35,261.64 L291.95,259.05 L292.66,256.87 L288.12,251.88 L288.69,250.45 L294.36,254.02 L294.92,252.24 L295.24,250.18 L295.81,248.59 Z" fill="url(#ab)" stroke="#c4c4e8" stroke-width="0.9" opacity="1.0" filter="url(#bl)"/>
<path d="M274.57,283.96 L275.39,284.60 L275.96,286.19 L276.28,288.26 L276.84,290.05 L282.51,286.47 L283.08,287.90 L278.54,292.92 L279.25,295.12 L279.85,297.71 L280.32,300.63 L280.64,303.78 L280.81,307.09 L280.81,310.48 L283.46,314.78 L282.89,315.86 L279.11,312.99 L277.63,313.50 L276.31,313.68 L275.33,313.71 L274.95,319.80 L274.20,319.80 L273.82,313.71 L272.84,313.68 L271.52,313.50 L270.04,312.99 L266.26,315.86 L265.69,314.78 L268.34,310.48 L268.34,307.09 L268.51,303.78 L268.83,300.63 L269.30,297.71 L269.90,295.12 L270.61,292.92 L266.07,287.90 L266.64,286.47 L272.31,290.05 L272.87,288.26 L273.19,286.19 L273.76,284.60 Z" fill="url(#ab)" stroke="#c4c4e8" stroke-width="0.9" opacity="1.0" filter="url(#bl)"/>
<path d="M296.62,283.96 L297.44,284.60 L298.01,286.19 L298.33,288.26 L298.89,290.05 L304.56,286.47 L305.13,287.90 L300.59,292.92 L301.30,295.12 L301.90,297.71 L302.37,300.63 L302.69,303.78 L302.86,307.09 L302.86,310.48 L305.51,314.78 L304.94,315.86 L301.16,312.99 L299.68,313.50 L298.36,313.68 L297.38,313.71 L297.00,319.80 L296.25,319.80 L295.87,313.71 L294.89,313.68 L293.57,313.50 L292.09,312.99 L288.31,315.86 L287.74,314.78 L290.39,310.48 L290.39,307.09 L290.56,303.78 L290.88,300.63 L291.35,297.71 L291.95,295.12 L292.66,292.92 L288.12,287.90 L288.69,286.47 L294.36,290.05 L294.92,288.26 L295.24,286.19 L295.81,284.60 Z" fill="url(#ab)" stroke="#c4c4e8" stroke-width="0.9" opacity="1.0" filter="url(#bl)"/>
<ellipse cx="275.00" cy="259.50" rx="12.50" ry="10.50" fill="url(#glow)"/>
<ellipse cx="280.00" cy="257.50" rx="9.00" ry="8.50" fill="url(#glow)"/>
<ellipse cx="271.50" cy="261.00" rx="8.50" ry="8.50" fill="url(#glow)"/>
<ellipse cx="275.00" cy="270.00" rx="9.00" ry="7.60" fill="url(#glow)"/>
<ellipse cx="275.00" cy="259.50" rx="9.90" ry="7.90" fill="url(#halo)"/>
<ellipse cx="280.00" cy="257.50" rx="6.40" ry="5.90" fill="url(#halo)"/>
<ellipse cx="271.50" cy="261.00" rx="5.90" ry="5.90" fill="url(#halo)"/>
<ellipse cx="275.00" cy="270.00" rx="6.40" ry="5.00" fill="url(#halo)"/>
<ellipse cx="275.00" cy="259.50" rx="7.50" ry="5.50" fill="url(#red)"/>
<ellipse cx="280.00" cy="257.50" rx="4.00" ry="3.50" fill="url(#red)"/>
<ellipse cx="271.50" cy="261.00" rx="3.50" ry="3.50" fill="url(#red)"/>
<ellipse cx="275.00" cy="270.00" rx="4.00" ry="2.60" fill="url(#red)"/>
<ellipse cx="271.00" cy="265.50" rx="2.80" ry="2.60" fill="url(#yel)"/>
<ellipse cx="298.20" cy="260.70" rx="9.00" ry="9.20" fill="url(#glow)"/>
<ellipse cx="298.20" cy="260.70" rx="6.20" ry="6.40" fill="url(#halo)"/>
<ellipse cx="298.20" cy="260.70" rx="4.00" ry="4.20" fill="url(#red)"/>
<rect x="444.00" y="283.50" width="44.30" height="36.50" fill="#08081e"/>
<path d="M456.18,283.87 L456.99,284.51 L457.55,286.11 L457.86,288.20 L458.42,290.01 L464.00,286.39 L464.56,287.84 L460.09,292.90 L460.78,295.11 L461.37,297.73 L461.83,300.67 L462.16,303.85 L462.33,307.19 L462.32,310.60 L464.93,314.94 L464.37,316.03 L460.65,313.13 L459.19,313.64 L457.89,313.83 L456.93,313.86 L456.55,320.00 L455.81,320.00 L455.44,313.86 L454.47,313.83 L453.18,313.64 L451.72,313.13 L448.00,316.03 L447.44,314.94 L450.04,310.60 L450.04,307.19 L450.21,303.85 L450.53,300.67 L450.99,297.73 L451.58,295.11 L452.28,292.90 L447.81,287.84 L448.37,286.39 L453.95,290.01 L454.51,288.20 L454.82,286.11 L455.38,284.51 Z" fill="url(#ab)" stroke="#c4c4e8" stroke-width="0.9" opacity="1.0" filter="url(#bl)"/>
<path d="M477.89,283.87 L478.70,284.51 L479.25,286.11 L479.56,288.20 L480.12,290.01 L485.70,286.39 L486.26,287.84 L481.80,292.90 L482.49,295.11 L483.08,297.73 L483.54,300.67 L483.86,303.85 L484.03,307.19 L484.03,310.60 L486.63,314.94 L486.08,316.03 L482.35,313.13 L480.89,313.64 L479.60,313.83 L478.63,313.86 L478.26,320.00 L477.52,320.00 L477.15,313.86 L476.18,313.83 L474.88,313.64 L473.42,313.13 L469.70,316.03 L469.14,314.94 L471.75,310.60 L471.75,307.19 L471.91,303.85 L472.24,300.67 L472.70,297.73 L473.29,295.11 L473.98,292.90 L469.52,287.84 L470.07,286.39 L475.66,290.01 L476.21,288.20 L476.53,286.11 L477.08,284.51 Z" fill="url(#ab)" stroke="#c4c4e8" stroke-width="0.9" opacity="1.0" filter="url(#bl)"/>
<line x1="40.40" y1="561.40" x2="81.90" y2="561.40" stroke="#000" stroke-width="1.6"/>
<ellipse cx="60.90" cy="561.40" rx="5.8" ry="4.9" fill="#fff" stroke="#555" stroke-width="1.1"/>
<line x1="40.40" y1="598.00" x2="81.90" y2="598.00" stroke="#000" stroke-width="1.6"/>
<ellipse cx="60.90" cy="598.00" rx="5.8" ry="4.9" fill="#000"/>
<line x1="40.40" y1="634.40" x2="79.30" y2="634.40" stroke="#000" stroke-width="1.6"/>
<rect x="53.95" y="629.55" width="12.10" height="9.70" fill="#000"/>
<rect x="98.90" y="541.90" width="45.00" height="110.10" fill="#050505"/>
<path d="M109.93,542.56 L111.01,543.00 L111.73,544.15 L112.00,545.79 L112.41,547.22 L113.64,547.95 L114.77,548.76 L115.72,549.73 L119.24,549.37 L119.45,550.80 L116.55,551.88 L116.91,554.35 L117.17,557.34 L117.33,560.62 L117.38,563.99 L117.33,567.24 L117.17,570.16 L119.65,573.74 L119.03,574.82 L114.89,572.67 L113.27,573.17 L111.83,573.36 L110.75,573.38 L110.34,578.40 L109.51,578.40 L109.10,573.38 L108.02,573.36 L106.58,573.17 L104.96,572.67 L100.82,574.82 L100.20,573.74 L102.68,570.16 L102.52,567.24 L102.47,563.99 L102.52,560.62 L102.68,557.34 L102.94,554.35 L103.30,551.88 L100.40,550.80 L100.61,549.37 L104.13,549.73 L105.08,548.76 L106.21,547.95 L107.44,547.22 L107.86,545.79 L108.12,544.15 L108.84,543.00 Z" fill="url(#bb)" stroke="#9a9a9a" stroke-width="0.9" opacity="1.0" filter="url(#bl)"/>
<path d="M133.55,542.56 L134.64,543.00 L135.36,544.15 L135.62,545.79 L136.03,547.22 L137.26,547.95 L138.40,548.76 L139.35,549.73 L142.87,549.37 L143.07,550.80 L140.17,551.88 L140.54,554.35 L140.80,557.34 L140.95,560.62 L141.00,563.99 L140.95,567.24 L140.80,570.16 L143.28,573.74 L142.66,574.82 L138.52,572.67 L136.89,573.17 L135.45,573.36 L134.38,573.38 L133.96,578.40 L133.14,578.40 L132.72,573.38 L131.65,573.36 L130.21,573.17 L128.58,572.67 L124.44,574.82 L123.82,573.74 L126.31,570.16 L126.15,567.24 L126.10,563.99 L126.15,560.62 L126.31,557.34 L126.56,554.35 L126.93,551.88 L124.03,550.80 L124.24,549.37 L127.75,549.73 L128.70,548.76 L129.84,547.95 L131.07,547.22 L131.48,545.79 L131.74,544.15 L132.46,543.00 Z" fill="url(#bb)" stroke="#9a9a9a" stroke-width="0.9" opacity="1.0" filter="url(#bl)"/>
<path d="M109.93,578.76 L111.01,579.20 L111.73,580.36 L112.00,582.00 L112.41,583.43 L113.64,584.17 L114.77,584.98 L115.72,585.95 L119.24,585.59 L119.45,587.03 L116.55,588.11 L116.91,590.59 L117.17,593.58 L117.33,596.87 L117.38,600.25 L117.33,603.50 L117.17,606.43 L119.65,610.03 L119.03,611.11 L114.89,608.95 L113.27,609.46 L111.83,609.64 L110.75,609.67 L110.34,614.70 L109.51,614.70 L109.10,609.67 L108.02,609.64 L106.58,609.46 L104.96,608.95 L100.82,611.11 L100.20,610.03 L102.68,606.43 L102.52,603.50 L102.47,600.25 L102.52,596.87 L102.68,593.58 L102.94,590.59 L103.30,588.11 L100.40,587.03 L100.61,585.59 L104.13,585.95 L105.08,584.98 L106.21,584.17 L107.44,583.43 L107.86,582.00 L108.12,580.36 L108.84,579.20 Z" fill="url(#bb)" stroke="#9a9a9a" stroke-width="0.9" opacity="1.0" filter="url(#bl)"/>
<path d="M133.55,578.76 L134.64,579.20 L135.36,580.36 L135.62,582.00 L136.03,583.43 L137.26,584.17 L138.40,584.98 L139.35,585.95 L142.87,585.59 L143.07,587.03 L140.17,588.11 L140.54,590.59 L140.80,593.58 L140.95,596.87 L141.00,600.25 L140.95,603.50 L140.80,606.43 L143.28,610.03 L142.66,611.11 L138.52,608.95 L136.89,609.46 L135.45,609.64 L134.38,609.67 L133.96,614.70 L133.14,614.70 L132.72,609.67 L131.65,609.64 L130.21,609.46 L128.58,608.95 L124.44,611.11 L123.82,610.03 L126.31,606.43 L126.15,603.50 L126.10,600.25 L126.15,596.87 L126.31,593.58 L126.56,590.59 L126.93,588.11 L124.03,587.03 L124.24,585.59 L127.75,585.95 L128.70,584.98 L129.84,584.17 L131.07,583.43 L131.48,582.00 L131.74,580.36 L132.46,579.20 Z" fill="url(#bb)" stroke="#9a9a9a" stroke-width="0.9" opacity="1.0" filter="url(#bl)"/>
<path d="M109.93,615.07 L111.01,615.52 L111.73,616.71 L112.00,618.40 L112.41,619.87 L113.64,620.63 L114.77,621.46 L115.72,622.46 L119.24,622.09 L119.45,623.57 L116.55,624.67 L116.91,627.22 L117.17,630.30 L117.33,633.67 L117.38,637.15 L117.33,640.50 L117.17,643.51 L119.65,647.20 L119.03,648.31 L114.89,646.09 L113.27,646.61 L111.83,646.80 L110.75,646.83 L110.34,652.00 L109.51,652.00 L109.10,646.83 L108.02,646.80 L106.58,646.61 L104.96,646.09 L100.82,648.31 L100.20,647.20 L102.68,643.51 L102.52,640.50 L102.47,637.15 L102.52,633.67 L102.68,630.30 L102.94,627.22 L103.30,624.67 L100.40,623.57 L100.61,622.09 L104.13,622.46 L105.08,621.46 L106.21,620.63 L107.44,619.87 L107.86,618.40 L108.12,616.71 L108.84,615.52 Z" fill="url(#bb)" stroke="#9a9a9a" stroke-width="0.9" opacity="1.0" filter="url(#bl)"/>
<path d="M133.55,615.07 L134.64,615.52 L135.36,616.71 L135.62,618.40 L136.03,619.87 L137.26,620.63 L138.40,621.46 L139.35,622.46 L142.87,622.09 L143.07,623.57 L140.17,624.67 L140.54,627.22 L140.80,630.30 L140.95,633.67 L141.00,637.15 L140.95,640.50 L140.80,643.51 L143.28,647.20 L142.66,648.31 L138.52,646.09 L136.89,646.61 L135.45,646.80 L134.38,646.83 L133.96,652.00 L133.14,652.00 L132.72,646.83 L131.65,646.80 L130.21,646.61 L128.58,646.09 L124.44,648.31 L123.82,647.20 L126.31,643.51 L126.15,640.50 L126.10,637.15 L126.15,633.67 L126.31,630.30 L126.56,627.22 L126.93,624.67 L124.03,623.57 L124.24,622.09 L127.75,622.46 L128.70,621.46 L129.84,620.63 L131.07,619.87 L131.48,618.40 L131.74,616.71 L132.46,615.52 Z" fill="url(#bb)" stroke="#9a9a9a" stroke-width="0.9" opacity="1.0" filter="url(#bl)"/>
<rect x="148.80" y="541.90" width="44.90" height="110.10" fill="#050505"/>
<path d="M159.80,542.56 L160.89,543.00 L161.61,544.15 L161.87,545.79 L162.28,547.22 L163.50,547.95 L164.64,548.76 L165.58,549.73 L169.09,549.37 L169.30,550.80 L166.41,551.88 L166.77,554.35 L167.03,557.34 L167.18,560.62 L167.24,563.99 L167.18,567.24 L167.03,570.16 L169.51,573.74 L168.89,574.82 L164.76,572.67 L163.14,573.17 L161.70,573.36 L160.63,573.38 L160.21,578.40 L159.39,578.40 L158.97,573.38 L157.90,573.36 L156.47,573.17 L154.84,572.67 L150.71,574.82 L150.09,573.74 L152.57,570.16 L152.42,567.24 L152.37,563.99 L152.42,560.62 L152.57,557.34 L152.83,554.35 L153.19,551.88 L150.30,550.80 L150.51,549.37 L154.02,549.73 L154.97,548.76 L156.10,547.95 L157.32,547.22 L157.74,545.79 L158.00,544.15 L158.71,543.00 Z" fill="url(#bb)" stroke="#9a9a9a" stroke-width="0.9" opacity="1.0" filter="url(#bl)"/>
<path d="M183.37,542.56 L184.46,543.00 L185.18,544.15 L185.44,545.79 L185.85,547.22 L187.08,547.95 L188.21,548.76 L189.16,549.73 L192.67,549.37 L192.87,550.80 L189.98,551.88 L190.34,554.35 L190.60,557.34 L190.76,560.62 L190.81,563.99 L190.76,567.24 L190.60,570.16 L193.08,573.74 L192.46,574.82 L188.33,572.67 L186.71,573.17 L185.27,573.36 L184.20,573.38 L183.79,578.40 L182.96,578.40 L182.55,573.38 L181.48,573.36 L180.04,573.17 L178.42,572.67 L174.29,574.82 L173.67,573.74 L176.14,570.16 L175.99,567.24 L175.94,563.99 L175.99,560.62 L176.14,557.34 L176.40,554.35 L176.76,551.88 L173.87,550.80 L174.08,549.37 L177.59,549.73 L178.54,548.76 L179.67,547.95 L180.89,547.22 L181.31,545.79 L181.57,544.15 L182.29,543.00 Z" fill="url(#bb)" stroke="#9a9a9a" stroke-width="0.9" opacity="1.0" filter="url(#bl)"/>
<path d="M159.80,578.76 L160.89,579.20 L161.61,580.36 L161.87,582.00 L162.28,583.43 L163.50,584.17 L164.64,584.98 L165.58,585.95 L169.09,585.59 L169.30,587.03 L166.41,588.11 L166.77,590.59 L167.03,593.58 L167.18,596.87 L167.24,600.25 L167.18,603.50 L167.03,606.43 L169.51,610.03 L168.89,611.11 L164.76,608.95 L163.14,609.46 L161.70,609.64 L160.63,609.67 L160.21,614.70 L159.39,614.70 L158.97,609.67 L157.90,609.64 L156.47,609.46 L154.84,608.95 L150.71,611.11 L150.09,610.03 L152.57,606.43 L152.42,603.50 L152.37,600.25 L152.42,596.87 L152.57,593.58 L152.83,590.59 L153.19,588.11 L150.30,587.03 L150.51,585.59 L154.02,585.95 L154.97,584.98 L156.10,584.17 L157.32,583.43 L157.74,582.00 L158.00,580.36 L158.71,579.20 Z" fill="url(#bb)" stroke="#9a9a9a" stroke-width="0.9" opacity="1.0" filter="url(#bl)"/>
<path d="M183.37,578.76 L184.46,579.20 L185.18,580.36 L185.44,582.00 L185.85,583.43 L187.08,584.17 L188.21,584.98 L189.16,585.95 L192.67,585.59 L192.87,587.03 L189.98,588.11 L190.34,590.59 L190.60,593.58 L190.76,596.87 L190.81,600.25 L190.76,603.50 L190.60,606.43 L193.08,610.03 L192.46,611.11 L188.33,608.95 L186.71,609.46 L185.27,609.64 L184.20,609.67 L183.79,614.70 L182.96,614.70 L182.55,609.67 L181.48,609.64 L180.04,609.46 L178.42,608.95 L174.29,611.11 L173.67,610.03 L176.14,606.43 L175.99,603.50 L175.94,600.25 L175.99,596.87 L176.14,593.58 L176.40,590.59 L176.76,588.11 L173.87,587.03 L174.08,585.59 L177.59,585.95 L178.54,584.98 L179.67,584.17 L180.89,583.43 L181.31,582.00 L181.57,580.36 L182.29,579.20 Z" fill="url(#bb)" stroke="#9a9a9a" stroke-width="0.9" opacity="1.0" filter="url(#bl)"/>
<path d="M159.80,615.07 L160.89,615.52 L161.61,616.71 L161.87,618.40 L162.28,619.87 L163.50,620.63 L164.64,621.46 L165.58,622.46 L169.09,622.09 L169.30,623.57 L166.41,624.67 L166.77,627.22 L167.03,630.30 L167.18,633.67 L167.24,637.15 L167.18,640.50 L167.03,643.51 L169.51,647.20 L168.89,648.31 L164.76,646.09 L163.14,646.61 L161.70,646.80 L160.63,646.83 L160.21,652.00 L159.39,652.00 L158.97,646.83 L157.90,646.80 L156.47,646.61 L154.84,646.09 L150.71,648.31 L150.09,647.20 L152.57,643.51 L152.42,640.50 L152.37,637.15 L152.42,633.67 L152.57,630.30 L152.83,627.22 L153.19,624.67 L150.30,623.57 L150.51,622.09 L154.02,622.46 L154.97,621.46 L156.10,620.63 L157.32,619.87 L157.74,618.40 L158.00,616.71 L158.71,615.52 Z" fill="url(#bb)" stroke="#9a9a9a" stroke-width="0.9" opacity="1.0" filter="url(#bl)"/>
<path d="M183.37,615.07 L184.46,615.52 L185.18,616.71 L185.44,618.40 L185.85,619.87 L187.08,620.63 L188.21,621.46 L189.16,622.46 L192.67,622.09 L192.87,623.57 L189.98,624.67 L190.34,627.22 L190.60,630.30 L190.76,633.67 L190.81,637.15 L190.76,640.50 L190.60,643.51 L193.08,647.20 L192.46,648.31 L188.33,646.09 L186.71,646.61 L185.27,646.80 L184.20,646.83 L183.79,652.00 L182.96,652.00 L182.55,646.83 L181.48,646.80 L180.04,646.61 L178.42,646.09 L174.29,648.31 L173.67,647.20 L176.14,643.51 L175.99,640.50 L175.94,637.15 L175.99,633.67 L176.14,630.30 L176.40,627.22 L176.76,624.67 L173.87,623.57 L174.08,622.09 L177.59,622.46 L178.54,621.46 L179.67,620.63 L180.89,619.87 L181.31,618.40 L181.57,616.71 L182.29,615.52 Z" fill="url(#bb)" stroke="#9a9a9a" stroke-width="0.9" opacity="1.0" filter="url(#bl)"/>
<rect x="198.50" y="541.90" width="44.80" height="110.10" fill="#050505"/>
<path d="M209.48,542.56 L210.56,543.00 L211.28,544.15 L211.54,545.79 L211.95,547.22 L213.17,547.95 L214.30,548.76 L215.25,549.73 L218.75,549.37 L218.96,550.80 L216.07,551.88 L216.43,554.35 L216.69,557.34 L216.84,560.62 L216.89,563.99 L216.84,567.24 L216.69,570.16 L219.16,573.74 L218.54,574.82 L214.42,572.67 L212.80,573.17 L211.37,573.36 L210.30,573.38 L209.89,578.40 L209.06,578.40 L208.65,573.38 L207.58,573.36 L206.15,573.17 L204.53,572.67 L200.41,574.82 L199.79,573.74 L202.26,570.16 L202.11,567.24 L202.06,563.99 L202.11,560.62 L202.26,557.34 L202.52,554.35 L202.88,551.88 L200.00,550.80 L200.20,549.37 L203.71,549.73 L204.65,548.76 L205.78,547.95 L207.00,547.22 L207.42,545.79 L207.67,544.15 L208.39,543.00 Z" fill="url(#bb)" stroke="#9a9a9a" stroke-width="0.9" opacity="1.0" filter="url(#bl)"/>
<path d="M233.00,542.56 L234.08,543.00 L234.80,544.15 L235.06,545.79 L235.47,547.22 L236.69,547.95 L237.82,548.76 L238.77,549.73 L242.27,549.37 L242.48,550.80 L239.59,551.88 L239.95,554.35 L240.21,557.34 L240.36,560.62 L240.41,563.99 L240.36,567.24 L240.21,570.16 L242.68,573.74 L242.06,574.82 L237.94,572.67 L236.32,573.17 L234.89,573.36 L233.82,573.38 L233.41,578.40 L232.58,578.40 L232.17,573.38 L231.10,573.36 L229.67,573.17 L228.05,572.67 L223.93,574.82 L223.31,573.74 L225.78,570.16 L225.63,567.24 L225.58,563.99 L225.63,560.62 L225.78,557.34 L226.04,554.35 L226.40,551.88 L223.52,550.80 L223.72,549.37 L227.23,549.73 L228.17,548.76 L229.30,547.95 L230.52,547.22 L230.94,545.79 L231.19,544.15 L231.91,543.00 Z" fill="url(#bb)" stroke="#9a9a9a" stroke-width="0.9" opacity="1.0" filter="url(#bl)"/>
<path d="M209.48,578.76 L210.56,579.20 L211.28,580.36 L211.54,582.00 L211.95,583.43 L213.17,584.17 L214.30,584.98 L215.25,585.95 L218.75,585.59 L218.96,587.03 L216.07,588.11 L216.43,590.59 L216.69,593.58 L216.84,596.87 L216.89,600.25 L216.84,603.50 L216.69,606.43 L219.16,610.03 L218.54,611.11 L214.42,608.95 L212.80,609.46 L211.37,609.64 L210.30,609.67 L209.89,614.70 L209.06,614.70 L208.65,609.67 L207.58,609.64 L206.15,609.46 L204.53,608.95 L200.41,611.11 L199.79,610.03 L202.26,606.43 L202.11,603.50 L202.06,600.25 L202.11,596.87 L202.26,593.58 L202.52,590.59 L202.88,588.11 L200.00,587.03 L200.20,585.59 L203.71,585.95 L204.65,584.98 L205.78,584.17 L207.00,583.43 L207.42,582.00 L207.67,580.36 L208.39,579.20 Z" fill="url(#bb)" stroke="#9a9a9a" stroke-width="0.9" opacity="1.0" filter="url(#bl)"/>
<path d="M233.00,578.76 L234.08,579.20 L234.80,580.36 L235.06,582.00 L235.47,583.43 L236.69,584.17 L237.82,584.98 L238.77,585.95 L242.27,585.59 L242.48,587.03 L239.59,588.11 L239.95,590.59 L240.21,593.58 L240.36,596.87 L240.41,600.25 L240.36,603.50 L240.21,606.43 L242.68,610.03 L242.06,611.11 L237.94,608.95 L236.32,609.46 L234.89,609.64 L233.82,609.67 L233.41,614.70 L232.58,614.70 L232.17,609.67 L231.10,609.64 L229.67,609.46 L228.05,608.95 L223.93,611.11 L223.31,610.03 L225.78,606.43 L225.63,603.50 L225.58,600.25 L225.63,596.87 L225.78,593.58 L226.04,590.59 L226.40,588.11 L223.52,587.03 L223.72,585.59 L227.23,585.95 L228.17,584.98 L229.30,584.17 L230.52,583.43 L230.94,582.00 L231.19,580.36 L231.91,579.20 Z" fill="url(#bb)" stroke="#9a9a9a" stroke-width="0.9" opacity="1.0" filter="url(#bl)"/>
<path d="M209.48,615.07 L210.56,615.52 L211.28,616.71 L211.54,618.40 L211.95,619.87 L213.17,620.63 L214.30,621.46 L215.25,622.46 L218.75,622.09 L218.96,623.57 L216.07,624.67 L216.43,627.22 L216.69,630.30 L216.84,633.67 L216.89,637.15 L216.84,640.50 L216.69,643.51 L219.16,647.20 L218.54,648.31 L214.42,646.09 L212.80,646.61 L211.37,646.80 L210.30,646.83 L209.89,652.00 L209.06,652.00 L208.65,646.83 L207.58,646.80 L206.15,646.61 L204.53,646.09 L200.41,648.31 L199.79,647.20 L202.26,643.51 L202.11,640.50 L202.06,637.15 L202.11,633.67 L202.26,630.30 L202.52,627.22 L202.88,624.67 L200.00,623.57 L200.20,622.09 L203.71,622.46 L204.65,621.46 L205.78,620.63 L207.00,619.87 L207.42,618.40 L207.67,616.71 L208.39,615.52 Z" fill="url(#bb)" stroke="#9a9a9a" stroke-width="0.9" opacity="1.0" filter="url(#bl)"/>
<path d="M233.00,615.07 L234.08,615.52 L234.80,616.71 L235.06,618.40 L235.47,619.87 L236.69,620.63 L237.82,621.46 L238.77,622.46 L242.27,622.09 L242.48,623.57 L239.59,624.67 L239.95,627.22 L240.21,630.30 L240.36,633.67 L240.41,637.15 L240.36,640.50 L240.21,643.51 L242.68,647.20 L242.06,648.31 L237.94,646.09 L236.32,646.61 L234.89,646.80 L233.82,646.83 L233.41,652.00 L232.58,652.00 L232.17,646.83 L231.10,646.80 L229.67,646.61 L228.05,646.09 L223.93,648.31 L223.31,647.20 L225.78,643.51 L225.63,640.50 L225.58,637.15 L225.63,633.67 L225.78,630.30 L226.04,627.22 L226.40,624.67 L223.52,623.57 L223.72,622.09 L227.23,622.46 L228.17,621.46 L229.30,620.63 L230.52,619.87 L230.94,618.40 L231.19,616.71 L231.91,615.52 Z" fill="url(#bb)" stroke="#9a9a9a" stroke-width="0.9" opacity="1.0" filter="url(#bl)"/>
<rect x="248.20" y="541.90" width="45.50" height="110.10" fill="#050505"/>
<path d="M259.35,542.56 L260.45,543.00 L261.18,544.15 L261.44,545.79 L261.86,547.22 L263.10,547.95 L264.25,548.76 L265.21,549.73 L268.77,549.37 L268.98,550.80 L266.05,551.88 L266.41,554.35 L266.67,557.34 L266.83,560.62 L266.88,563.99 L266.83,567.24 L266.67,570.16 L269.18,573.74 L268.56,574.82 L264.37,572.67 L262.73,573.17 L261.27,573.36 L260.18,573.38 L259.77,578.40 L258.93,578.40 L258.51,573.38 L257.43,573.36 L255.97,573.17 L254.32,572.67 L250.14,574.82 L249.51,573.74 L252.02,570.16 L251.87,567.24 L251.81,563.99 L251.87,560.62 L252.02,557.34 L252.28,554.35 L252.65,551.88 L249.72,550.80 L249.93,549.37 L253.49,549.73 L254.45,548.76 L255.60,547.95 L256.84,547.22 L257.25,545.79 L257.52,544.15 L258.25,543.00 Z" fill="url(#bb)" stroke="#9a9a9a" stroke-width="0.9" opacity="1.0" filter="url(#bl)"/>
<path d="M283.24,542.56 L284.34,543.00 L285.06,544.15 L285.33,545.79 L285.75,547.22 L286.99,547.95 L288.13,548.76 L289.10,549.73 L292.65,549.37 L292.86,550.80 L289.93,551.88 L290.30,554.35 L290.56,557.34 L290.72,560.62 L290.77,563.99 L290.72,567.24 L290.56,570.16 L293.07,573.74 L292.44,574.82 L288.26,572.67 L286.61,573.17 L285.16,573.36 L284.07,573.38 L283.65,578.40 L282.82,578.40 L282.40,573.38 L281.31,573.36 L279.86,573.17 L278.21,572.67 L274.03,574.82 L273.40,573.74 L275.91,570.16 L275.75,567.24 L275.70,563.99 L275.75,560.62 L275.91,557.34 L276.17,554.35 L276.54,551.88 L273.61,550.80 L273.82,549.37 L277.37,549.73 L278.34,548.76 L279.48,547.95 L280.72,547.22 L281.14,545.79 L281.41,544.15 L282.13,543.00 Z" fill="url(#bb)" stroke="#9a9a9a" stroke-width="0.9" opacity="1.0" filter="url(#bl)"/>
<path d="M259.35,578.76 L260.45,579.20 L261.18,580.36 L261.44,582.00 L261.86,583.43 L263.10,584.17 L264.25,584.98 L265.21,585.95 L268.77,585.59 L268.98,587.03 L266.05,588.11 L266.41,590.59 L266.67,593.58 L266.83,596.87 L266.88,600.25 L266.83,603.50 L266.67,606.43 L269.18,610.03 L268.56,611.11 L264.37,608.95 L262.73,609.46 L261.27,609.64 L260.18,609.67 L259.77,614.70 L258.93,614.70 L258.51,609.67 L257.43,609.64 L255.97,609.46 L254.32,608.95 L250.14,611.11 L249.51,610.03 L252.02,606.43 L251.87,603.50 L251.81,600.25 L251.87,596.87 L252.02,593.58 L252.28,590.59 L252.65,588.11 L249.72,587.03 L249.93,585.59 L253.49,585.95 L254.45,584.98 L255.60,584.17 L256.84,583.43 L257.25,582.00 L257.52,580.36 L258.25,579.20 Z" fill="url(#bb)" stroke="#9a9a9a" stroke-width="0.9" opacity="1.0" filter="url(#bl)"/>
<path d="M283.24,578.76 L284.34,579.20 L285.06,580.36 L285.33,582.00 L285.75,583.43 L286.99,584.17 L288.13,584.98 L289.10,585.95 L292.65,585.59 L292.86,587.03 L289.93,588.11 L290.30,590.59 L290.56,593.58 L290.72,596.87 L290.77,600.25 L290.72,603.50 L290.56,606.43 L293.07,610.03 L292.44,611.11 L288.26,608.95 L286.61,609.46 L285.16,609.64 L284.07,609.67 L283.65,614.70 L282.82,614.70 L282.40,609.67 L281.31,609.64 L279.86,609.46 L278.21,608.95 L274.03,611.11 L273.40,610.03 L275.91,606.43 L275.75,603.50 L275.70,600.25 L275.75,596.87 L275.91,593.58 L276.17,590.59 L276.54,588.11 L273.61,587.03 L273.82,585.59 L277.37,585.95 L278.34,584.98 L279.48,584.17 L280.72,583.43 L281.14,582.00 L281.41,580.36 L282.13,579.20 Z" fill="url(#bb)" stroke="#9a9a9a" stroke-width="0.9" opacity="1.0" filter="url(#bl)"/>
<path d="M259.35,615.07 L260.45,615.52 L261.18,616.71 L261.44,618.40 L261.86,619.87 L263.10,620.63 L264.25,621.46 L265.21,622.46 L268.77,622.09 L268.98,623.57 L266.05,624.67 L266.41,627.22 L266.67,630.30 L266.83,633.67 L266.88,637.15 L266.83,640.50 L266.67,643.51 L269.18,647.20 L268.56,648.31 L264.37,646.09 L262.73,646.61 L261.27,646.80 L260.18,646.83 L259.77,652.00 L258.93,652.00 L258.51,646.83 L257.43,646.80 L255.97,646.61 L254.32,646.09 L250.14,648.31 L249.51,647.20 L252.02,643.51 L251.87,640.50 L251.81,637.15 L251.87,633.67 L252.02,630.30 L252.28,627.22 L252.65,624.67 L249.72,623.57 L249.93,622.09 L253.49,622.46 L254.45,621.46 L255.60,620.63 L256.84,619.87 L257.25,618.40 L257.52,616.71 L258.25,615.52 Z" fill="url(#bb)" stroke="#9a9a9a" stroke-width="0.9" opacity="1.0" filter="url(#bl)"/>
<path d="M283.24,615.07 L284.34,615.52 L285.06,616.71 L285.33,618.40 L285.75,619.87 L286.99,620.63 L288.13,621.46 L289.10,622.46 L292.65,622.09 L292.86,623.57 L289.93,624.67 L290.30,627.22 L290.56,630.30 L290.72,633.67 L290.77,637.15 L290.72,640.50 L290.56,643.51 L293.07,647.20 L292.44,648.31 L288.26,646.09 L286.61,646.61 L285.16,646.80 L284.07,646.83 L283.65,652.00 L282.82,652.00 L282.40,646.83 L281.31,646.80 L279.86,646.61 L278.21,646.09 L274.03,648.31 L273.40,647.20 L275.91,643.51 L275.75,640.50 L275.70,637.15 L275.75,633.67 L275.91,630.30 L276.17,627.22 L276.54,624.67 L273.61,623.57 L273.82,622.09 L277.37,622.46 L278.34,621.46 L279.48,620.63 L280.72,619.87 L281.14,618.40 L281.41,616.71 L282.13,615.52 Z" fill="url(#bb)" stroke="#9a9a9a" stroke-width="0.9" opacity="1.0" filter="url(#bl)"/>
<rect x="298.10" y="614.70" width="45.40" height="37.30" fill="#050505"/>
<path d="M309.22,615.07 L310.32,615.52 L311.05,616.71 L311.31,618.40 L311.73,619.87 L312.97,620.63 L314.11,621.46 L315.07,622.46 L318.62,622.09 L318.83,623.57 L315.91,624.67 L316.27,627.22 L316.53,630.30 L316.69,633.67 L316.74,637.15 L316.69,640.50 L316.53,643.51 L319.04,647.20 L318.41,648.31 L314.24,646.09 L312.60,646.61 L311.14,646.80 L310.06,646.83 L309.64,652.00 L308.81,652.00 L308.39,646.83 L307.30,646.80 L305.85,646.61 L304.21,646.09 L300.03,648.31 L299.41,647.20 L301.91,643.51 L301.76,640.50 L301.70,637.15 L301.76,633.67 L301.91,630.30 L302.17,627.22 L302.54,624.67 L299.62,623.57 L299.83,622.09 L303.38,622.46 L304.33,621.46 L305.48,620.63 L306.72,619.87 L307.13,618.40 L307.40,616.71 L308.12,615.52 Z" fill="url(#bb)" stroke="#9a9a9a" stroke-width="0.9" opacity="1.0" filter="url(#bl)"/>
<path d="M333.06,615.07 L334.16,615.52 L334.88,616.71 L335.15,618.40 L335.56,619.87 L336.80,620.63 L337.95,621.46 L338.91,622.46 L342.46,622.09 L342.66,623.57 L339.74,624.67 L340.11,627.22 L340.37,630.30 L340.52,633.67 L340.58,637.15 L340.52,640.50 L340.37,643.51 L342.87,647.20 L342.25,648.31 L338.07,646.09 L336.43,646.61 L334.98,646.80 L333.89,646.83 L333.48,652.00 L332.64,652.00 L332.22,646.83 L331.14,646.80 L329.69,646.61 L328.05,646.09 L323.87,648.31 L323.24,647.20 L325.75,643.51 L325.59,640.50 L325.54,637.15 L325.59,633.67 L325.75,630.30 L326.01,627.22 L326.38,624.67 L323.45,623.57 L323.66,622.09 L327.21,622.46 L328.17,621.46 L329.31,620.63 L330.55,619.87 L330.97,618.40 L331.23,616.71 L331.96,615.52 Z" fill="url(#bb)" stroke="#9a9a9a" stroke-width="0.9" opacity="1.0" filter="url(#bl)"/>
<rect x="348.20" y="614.70" width="45.20" height="37.30" fill="#050505"/>
<path d="M359.27,615.07 L360.37,615.52 L361.09,616.71 L361.35,618.40 L361.77,619.87 L363.00,620.63 L364.14,621.46 L365.10,622.46 L368.63,622.09 L368.84,623.57 L365.93,624.67 L366.29,627.22 L366.55,630.30 L366.71,633.67 L366.76,637.15 L366.71,640.50 L366.55,643.51 L369.05,647.20 L368.42,648.31 L364.26,646.09 L362.63,646.61 L361.18,646.80 L360.11,646.83 L359.69,652.00 L358.86,652.00 L358.44,646.83 L357.36,646.80 L355.92,646.61 L354.28,646.09 L350.13,648.31 L349.50,647.20 L352.00,643.51 L351.84,640.50 L351.79,637.15 L351.84,633.67 L352.00,630.30 L352.26,627.22 L352.62,624.67 L349.71,623.57 L349.92,622.09 L353.45,622.46 L354.41,621.46 L355.55,620.63 L356.78,619.87 L357.19,618.40 L357.46,616.71 L358.18,615.52 Z" fill="url(#bb)" stroke="#9a9a9a" stroke-width="0.9" opacity="1.0" filter="url(#bl)"/>
<path d="M383.00,615.07 L384.10,615.52 L384.82,616.71 L385.08,618.40 L385.50,619.87 L386.73,620.63 L387.87,621.46 L388.83,622.46 L392.36,622.09 L392.57,623.57 L389.66,624.67 L390.02,627.22 L390.28,630.30 L390.44,633.67 L390.49,637.15 L390.44,640.50 L390.28,643.51 L392.78,647.20 L392.15,648.31 L387.99,646.09 L386.36,646.61 L384.91,646.80 L383.84,646.83 L383.42,652.00 L382.59,652.00 L382.17,646.83 L381.09,646.80 L379.65,646.61 L378.01,646.09 L373.86,648.31 L373.23,647.20 L375.73,643.51 L375.57,640.50 L375.52,637.15 L375.57,633.67 L375.73,630.30 L375.99,627.22 L376.35,624.67 L373.44,623.57 L373.65,622.09 L377.18,622.46 L378.14,621.46 L379.28,620.63 L380.51,619.87 L380.92,618.40 L381.19,616.71 L381.91,615.52 Z" fill="url(#bb)" stroke="#9a9a9a" stroke-width="0.9" opacity="1.0" filter="url(#bl)"/>
<rect x="397.80" y="614.70" width="45.20" height="37.30" fill="#050505"/>
<path d="M408.87,615.07 L409.97,615.52 L410.69,616.71 L410.95,618.40 L411.37,619.87 L412.60,620.63 L413.74,621.46 L414.70,622.46 L418.23,622.09 L418.44,623.57 L415.53,624.67 L415.89,627.22 L416.15,630.30 L416.31,633.67 L416.36,637.15 L416.31,640.50 L416.15,643.51 L418.65,647.20 L418.02,648.31 L413.86,646.09 L412.23,646.61 L410.78,646.80 L409.71,646.83 L409.29,652.00 L408.46,652.00 L408.04,646.83 L406.96,646.80 L405.52,646.61 L403.88,646.09 L399.73,648.31 L399.10,647.20 L401.60,643.51 L401.44,640.50 L401.39,637.15 L401.44,633.67 L401.60,630.30 L401.86,627.22 L402.22,624.67 L399.31,623.57 L399.52,622.09 L403.05,622.46 L404.01,621.46 L405.15,620.63 L406.38,619.87 L406.79,618.40 L407.06,616.71 L407.78,615.52 Z" fill="url(#bb)" stroke="#9a9a9a" stroke-width="0.9" opacity="1.0" filter="url(#bl)"/>
<path d="M432.60,615.07 L433.70,615.52 L434.42,616.71 L434.68,618.40 L435.10,619.87 L436.33,620.63 L437.47,621.46 L438.43,622.46 L441.96,622.09 L442.17,623.57 L439.26,624.67 L439.62,627.22 L439.88,630.30 L440.04,633.67 L440.09,637.15 L440.04,640.50 L439.88,643.51 L442.38,647.20 L441.75,648.31 L437.59,646.09 L435.96,646.61 L434.51,646.80 L433.44,646.83 L433.02,652.00 L432.19,652.00 L431.77,646.83 L430.69,646.80 L429.25,646.61 L427.61,646.09 L423.46,648.31 L422.83,647.20 L425.33,643.51 L425.17,640.50 L425.12,637.15 L425.17,633.67 L425.33,630.30 L425.59,627.22 L425.95,624.67 L423.04,623.57 L423.25,622.09 L426.78,622.46 L427.74,621.46 L428.88,620.63 L430.11,619.87 L430.52,618.40 L430.79,616.71 L431.51,615.52 Z" fill="url(#bb)" stroke="#9a9a9a" stroke-width="0.9" opacity="1.0" filter="url(#bl)"/>
<rect x="447.60" y="614.70" width="45.50" height="37.30" fill="#050505"/>
<path d="M458.75,615.07 L459.85,615.52 L460.58,616.71 L460.84,618.40 L461.26,619.87 L462.50,620.63 L463.65,621.46 L464.61,622.46 L468.17,622.09 L468.38,623.57 L465.45,624.67 L465.81,627.22 L466.07,630.30 L466.23,633.67 L466.28,637.15 L466.23,640.50 L466.07,643.51 L468.58,647.20 L467.96,648.31 L463.77,646.09 L462.13,646.61 L460.67,646.80 L459.58,646.83 L459.17,652.00 L458.33,652.00 L457.91,646.83 L456.83,646.80 L455.37,646.61 L453.72,646.09 L449.54,648.31 L448.91,647.20 L451.42,643.51 L451.27,640.50 L451.21,637.15 L451.27,633.67 L451.42,630.30 L451.68,627.22 L452.05,624.67 L449.12,623.57 L449.33,622.09 L452.89,622.46 L453.85,621.46 L455.00,620.63 L456.24,619.87 L456.65,618.40 L456.92,616.71 L457.65,615.52 Z" fill="url(#bb)" stroke="#9a9a9a" stroke-width="0.9" opacity="1.0" filter="url(#bl)"/>
<path d="M482.64,615.07 L483.74,615.52 L484.46,616.71 L484.73,618.40 L485.15,619.87 L486.39,620.63 L487.53,621.46 L488.50,622.46 L492.05,622.09 L492.26,623.57 L489.33,624.67 L489.70,627.22 L489.96,630.30 L490.12,633.67 L490.17,637.15 L490.12,640.50 L489.96,643.51 L492.47,647.20 L491.84,648.31 L487.66,646.09 L486.01,646.61 L484.56,646.80 L483.47,646.83 L483.05,652.00 L482.22,652.00 L481.80,646.83 L480.71,646.80 L479.26,646.61 L477.61,646.09 L473.43,648.31 L472.80,647.20 L475.31,643.51 L475.15,640.50 L475.10,637.15 L475.15,633.67 L475.31,630.30 L475.57,627.22 L475.94,624.67 L473.01,623.57 L473.22,622.09 L476.77,622.46 L477.74,621.46 L478.88,620.63 L480.12,619.87 L480.54,618.40 L480.81,616.71 L481.53,615.52 Z" fill="url(#bb)" stroke="#9a9a9a" stroke-width="0.9" opacity="1.0" filter="url(#bl)"/>
<ellipse cx="182.00" cy="567.00" rx="7.00" ry="8.00" fill="url(#glow)"/>
<path d="M209.48,542.56 L210.56,543.00 L211.28,544.15 L211.54,545.79 L211.95,547.22 L213.17,547.95 L214.30,548.76 L215.25,549.73 L218.75,549.37 L218.96,550.80 L216.07,551.88 L216.43,554.35 L216.69,557.34 L216.84,560.62 L216.89,563.99 L216.84,567.24 L216.69,570.16 L219.16,573.74 L218.54,574.82 L214.42,572.67 L212.80,573.17 L211.37,573.36 L210.30,573.38 L209.89,578.40 L209.06,578.40 L208.65,573.38 L207.58,573.36 L206.15,573.17 L204.53,572.67 L200.41,574.82 L199.79,573.74 L202.26,570.16 L202.11,567.24 L202.06,563.99 L202.11,560.62 L202.26,557.34 L202.52,554.35 L202.88,551.88 L200.00,550.80 L200.20,549.37 L203.71,549.73 L204.65,548.76 L205.78,547.95 L207.00,547.22 L207.42,545.79 L207.67,544.15 L208.39,543.00 Z" fill="url(#w3)" stroke="#9090f0" stroke-width="0.9" opacity="1.0" filter="url(#bl)"/>
<path d="M233.00,542.56 L234.08,543.00 L234.80,544.15 L235.06,545.79 L235.47,547.22 L236.69,547.95 L237.82,548.76 L238.77,549.73 L242.27,549.37 L242.48,550.80 L239.59,551.88 L239.95,554.35 L240.21,557.34 L240.36,560.62 L240.41,563.99 L240.36,567.24 L240.21,570.16 L242.68,573.74 L242.06,574.82 L237.94,572.67 L236.32,573.17 L234.89,573.36 L233.82,573.38 L233.41,578.40 L232.58,578.40 L232.17,573.38 L231.10,573.36 L229.67,573.17 L228.05,572.67 L223.93,574.82 L223.31,573.74 L225.78,570.16 L225.63,567.24 L225.58,563.99 L225.63,560.62 L225.78,557.34 L226.04,554.35 L226.40,551.88 L223.52,550.80 L223.72,549.37 L227.23,549.73 L228.17,548.76 L229.30,547.95 L230.52,547.22 L230.94,545.79 L231.19,544.15 L231.91,543.00 Z" fill="url(#w3)" stroke="#9090f0" stroke-width="0.9" opacity="1.0" filter="url(#bl)"/>
<path d="M209.48,578.76 L210.56,579.20 L211.28,580.36 L211.54,582.00 L211.95,583.43 L213.17,584.17 L214.30,584.98 L215.25,585.95 L218.75,585.59 L218.96,587.03 L216.07,588.11 L216.43,590.59 L216.69,593.58 L216.84,596.87 L216.89,600.25 L216.84,603.50 L216.69,606.43 L219.16,610.03 L218.54,611.11 L214.42,608.95 L212.80,609.46 L211.37,609.64 L210.30,609.67 L209.89,614.70 L209.06,614.70 L208.65,609.67 L207.58,609.64 L206.15,609.46 L204.53,608.95 L200.41,611.11 L199.79,610.03 L202.26,606.43 L202.11,603.50 L202.06,600.25 L202.11,596.87 L202.26,593.58 L202.52,590.59 L202.88,588.11 L200.00,587.03 L200.20,585.59 L203.71,585.95 L204.65,584.98 L205.78,584.17 L207.00,583.43 L207.42,582.00 L207.67,580.36 L208.39,579.20 Z" fill="url(#w3)" stroke="#9090f0" stroke-width="0.9" opacity="1.0" filter="url(#bl)"/>
<path d="M233.00,578.76 L234.08,579.20 L234.80,580.36 L235.06,582.00 L235.47,583.43 L236.69,584.17 L237.82,584.98 L238.77,585.95 L242.27,585.59 L242.48,587.03 L239.59,588.11 L239.95,590.59 L240.21,593.58 L240.36,596.87 L240.41,600.25 L240.36,603.50 L240.21,606.43 L242.68,610.03 L242.06,611.11 L237.94,608.95 L236.32,609.46 L234.89,609.64 L233.82,609.67 L233.41,614.70 L232.58,614.70 L232.17,609.67 L231.10,609.64 L229.67,609.46 L228.05,608.95 L223.93,611.11 L223.31,610.03 L225.78,606.43 L225.63,603.50 L225.58,600.25 L225.63,596.87 L225.78,593.58 L226.04,590.59 L226.40,588.11 L223.52,587.03 L223.72,585.59 L227.23,585.95 L228.17,584.98 L229.30,584.17 L230.52,583.43 L230.94,582.00 L231.19,580.36 L231.91,579.20 Z" fill="url(#w3)" stroke="#9090f0" stroke-width="0.9" opacity="1.0" filter="url(#bl)"/>
<ellipse cx="205.50" cy="553.50" rx="3.00" ry="3.00" fill="url(#cyan)"/>
<ellipse cx="210.50" cy="563.50" rx="4.50" ry="2.50" fill="url(#cyan)"/>
<ellipse cx="209.50" cy="571.50" rx="8.50" ry="2.50" fill="url(#cyan)"/>
<ellipse cx="231.50" cy="556.50" rx="4.50" ry="4.00" fill="url(#cyan)"/>
<ellipse cx="232.00" cy="565.00" rx="4.20" ry="2.80" fill="url(#hot2)"/>
<ellipse cx="225.00" cy="571.00" rx="3.00" ry="2.50" fill="url(#cyan)"/>
<ellipse cx="238.50" cy="571.00" rx="2.50" ry="2.50" fill="url(#hot2)"/>
<ellipse cx="207.00" cy="589.00" rx="3.20" ry="2.40" fill="url(#ring)"/>
<ellipse cx="212.00" cy="600.00" rx="3.50" ry="2.40" fill="url(#ring)"/>
<ellipse cx="203.00" cy="607.00" rx="3.00" ry="2.50" fill="url(#cyan)"/>
<ellipse cx="216.00" cy="607.50" rx="3.00" ry="2.50" fill="url(#cyan)"/>
<ellipse cx="208.00" cy="593.00" rx="3.00" ry="3.00" fill="url(#cyan)"/>
<ellipse cx="234.00" cy="600.50" rx="3.50" ry="3.00" fill="url(#ring)"/>
<ellipse cx="226.00" cy="607.00" rx="3.00" ry="2.50" fill="url(#cyan)"/>
<ellipse cx="240.00" cy="606.50" rx="2.50" ry="2.50" fill="url(#cyan)"/>
<ellipse cx="231.00" cy="591.00" rx="3.00" ry="3.00" fill="url(#glow)"/>
<path d="M259.35,542.56 L260.45,543.00 L261.18,544.15 L261.44,545.79 L261.86,547.22 L263.10,547.95 L264.25,548.76 L265.21,549.73 L268.77,549.37 L268.98,550.80 L266.05,551.88 L266.41,554.35 L266.67,557.34 L266.83,560.62 L266.88,563.99 L266.83,567.24 L266.67,570.16 L269.18,573.74 L268.56,574.82 L264.37,572.67 L262.73,573.17 L261.27,573.36 L260.18,573.38 L259.77,578.40 L258.93,578.40 L258.51,573.38 L257.43,573.36 L255.97,573.17 L254.32,572.67 L250.14,574.82 L249.51,573.74 L252.02,570.16 L251.87,567.24 L251.81,563.99 L251.87,560.62 L252.02,557.34 L252.28,554.35 L252.65,551.88 L249.72,550.80 L249.93,549.37 L253.49,549.73 L254.45,548.76 L255.60,547.95 L256.84,547.22 L257.25,545.79 L257.52,544.15 L258.25,543.00 Z" fill="url(#w4)" stroke="#60d0ff" stroke-width="0.9" opacity="1.0" filter="url(#bl)"/>
<path d="M283.24,542.56 L284.34,543.00 L285.06,544.15 L285.33,545.79 L285.75,547.22 L286.99,547.95 L288.13,548.76 L289.10,549.73 L292.65,549.37 L292.86,550.80 L289.93,551.88 L290.30,554.35 L290.56,557.34 L290.72,560.62 L290.77,563.99 L290.72,567.24 L290.56,570.16 L293.07,573.74 L292.44,574.82 L288.26,572.67 L286.61,573.17 L285.16,573.36 L284.07,573.38 L283.65,578.40 L282.82,578.40 L282.40,573.38 L281.31,573.36 L279.86,573.17 L278.21,572.67 L274.03,574.82 L273.40,573.74 L275.91,570.16 L275.75,567.24 L275.70,563.99 L275.75,560.62 L275.91,557.34 L276.17,554.35 L276.54,551.88 L273.61,550.80 L273.82,549.37 L277.37,549.73 L278.34,548.76 L279.48,547.95 L280.72,547.22 L281.14,545.79 L281.41,544.15 L282.13,543.00 Z" fill="url(#w4)" stroke="#60d0ff" stroke-width="0.9" opacity="1.0" filter="url(#bl)"/>
<path d="M259.35,578.76 L260.45,579.20 L261.18,580.36 L261.44,582.00 L261.86,583.43 L263.10,584.17 L264.25,584.98 L265.21,585.95 L268.77,585.59 L268.98,587.03 L266.05,588.11 L266.41,590.59 L266.67,593.58 L266.83,596.87 L266.88,600.25 L266.83,603.50 L266.67,606.43 L269.18,610.03 L268.56,611.11 L264.37,608.95 L262.73,609.46 L261.27,609.64 L260.18,609.67 L259.77,614.70 L258.93,614.70 L258.51,609.67 L257.43,609.64 L255.97,609.46 L254.32,608.95 L250.14,611.11 L249.51,610.03 L252.02,606.43 L251.87,603.50 L251.81,600.25 L251.87,596.87 L252.02,593.58 L252.28,590.59 L252.65,588.11 L249.72,587.03 L249.93,585.59 L253.49,585.95 L254.45,584.98 L255.60,584.17 L256.84,583.43 L257.25,582.00 L257.52,580.36 L258.25,579.20 Z" fill="url(#w4)" stroke="#60d0ff" stroke-width="0.9" opacity="1.0" filter="url(#bl)"/>
<path d="M283.24,578.76 L284.34,579.20 L285.06,580.36 L285.33,582.00 L285.75,583.43 L286.99,584.17 L288.13,584.98 L289.10,585.95 L292.65,585.59 L292.86,587.03 L289.93,588.11 L290.30,590.59 L290.56,593.58 L290.72,596.87 L290.77,600.25 L290.72,603.50 L290.56,606.43 L293.07,610.03 L292.44,611.11 L288.26,608.95 L286.61,609.46 L285.16,609.64 L284.07,609.67 L283.65,614.70 L282.82,614.70 L282.40,609.67 L281.31,609.64 L279.86,609.46 L278.21,608.95 L274.03,611.11 L273.40,610.03 L275.91,606.43 L275.75,603.50 L275.70,600.25 L275.75,596.87 L275.91,593.58 L276.17,590.59 L276.54,588.11 L273.61,587.03 L273.82,585.59 L277.37,585.95 L278.34,584.98 L279.48,584.17 L280.72,583.43 L281.14,582.00 L281.41,580.36 L282.13,579.20 Z" fill="url(#w4)" stroke="#60d0ff" stroke-width="0.9" opacity="1.0" filter="url(#bl)"/>
<ellipse cx="258.00" cy="551.00" rx="4.50" ry="3.50" fill="url(#yel)"/>
<ellipse cx="262.00" cy="557.50" rx="6.00" ry="3.50" fill="url(#yel)"/>
<ellipse cx="262.00" cy="559.00" rx="4.50" ry="2.20" fill="url(#hot)"/>
<ellipse cx="260.00" cy="569.00" rx="10.00" ry="5.00" fill="url(#yel)"/>
<ellipse cx="260.00" cy="568.50" rx="8.00" ry="3.80" fill="url(#hot)"/>
<ellipse cx="279.50" cy="556.00" rx="5.00" ry="4.50" fill="url(#yel)"/>
<ellipse cx="286.50" cy="560.00" rx="4.00" ry="4.00" fill="url(#yel)"/>
<ellipse cx="287.50" cy="563.00" rx="3.00" ry="3.00" fill="url(#hot)"/>
<ellipse cx="277.00" cy="570.00" rx="4.50" ry="3.00" fill="url(#hot)"/>
<ellipse cx="284.00" cy="570.50" rx="5.00" ry="2.50" fill="url(#yel)"/>
<ellipse cx="258.50" cy="591.50" rx="3.00" ry="3.00" fill="url(#hot)"/>
<ellipse cx="263.50" cy="600.00" rx="3.00" ry="3.00" fill="url(#hot)"/>
<ellipse cx="258.00" cy="607.50" rx="8.00" ry="2.50" fill="url(#cyan)"/>
<ellipse cx="257.00" cy="585.00" rx="3.00" ry="3.00" fill="url(#cyan)"/>
<ellipse cx="283.50" cy="597.00" rx="5.50" ry="4.00" fill="url(#yel)"/>
<ellipse cx="266.00" cy="556.00" rx="3.50" ry="4.00" fill="url(#yel)"/>
<ellipse cx="253.50" cy="560.00" rx="3.00" ry="3.50" fill="url(#yel)"/>
<ellipse cx="290.00" cy="553.00" rx="2.50" ry="3.00" fill="url(#yel)"/>
<ellipse cx="262.00" cy="593.00" rx="3.00" ry="3.00" fill="url(#yel)"/>
<ellipse cx="253.00" cy="600.00" rx="2.50" ry="3.00" fill="url(#cyan)"/>
<ellipse cx="289.00" cy="604.00" rx="2.50" ry="3.00" fill="url(#yel)"/>
<ellipse cx="277.00" cy="607.00" rx="4.00" ry="2.60" fill="url(#hot)"/>
<ellipse cx="284.00" cy="590.00" rx="5.00" ry="5.00" fill="url(#cyan)"/>
<ellipse cx="389.20" cy="642.00" rx="2.50" ry="3.50" fill="url(#glow)"/>
<ellipse cx="437.70" cy="639.60" rx="3.00" ry="4.00" fill="url(#cool)"/>
<ellipse cx="485.60" cy="640.00" rx="6.00" ry="6.00" fill="url(#hot)"/>
</svg></body></html>
